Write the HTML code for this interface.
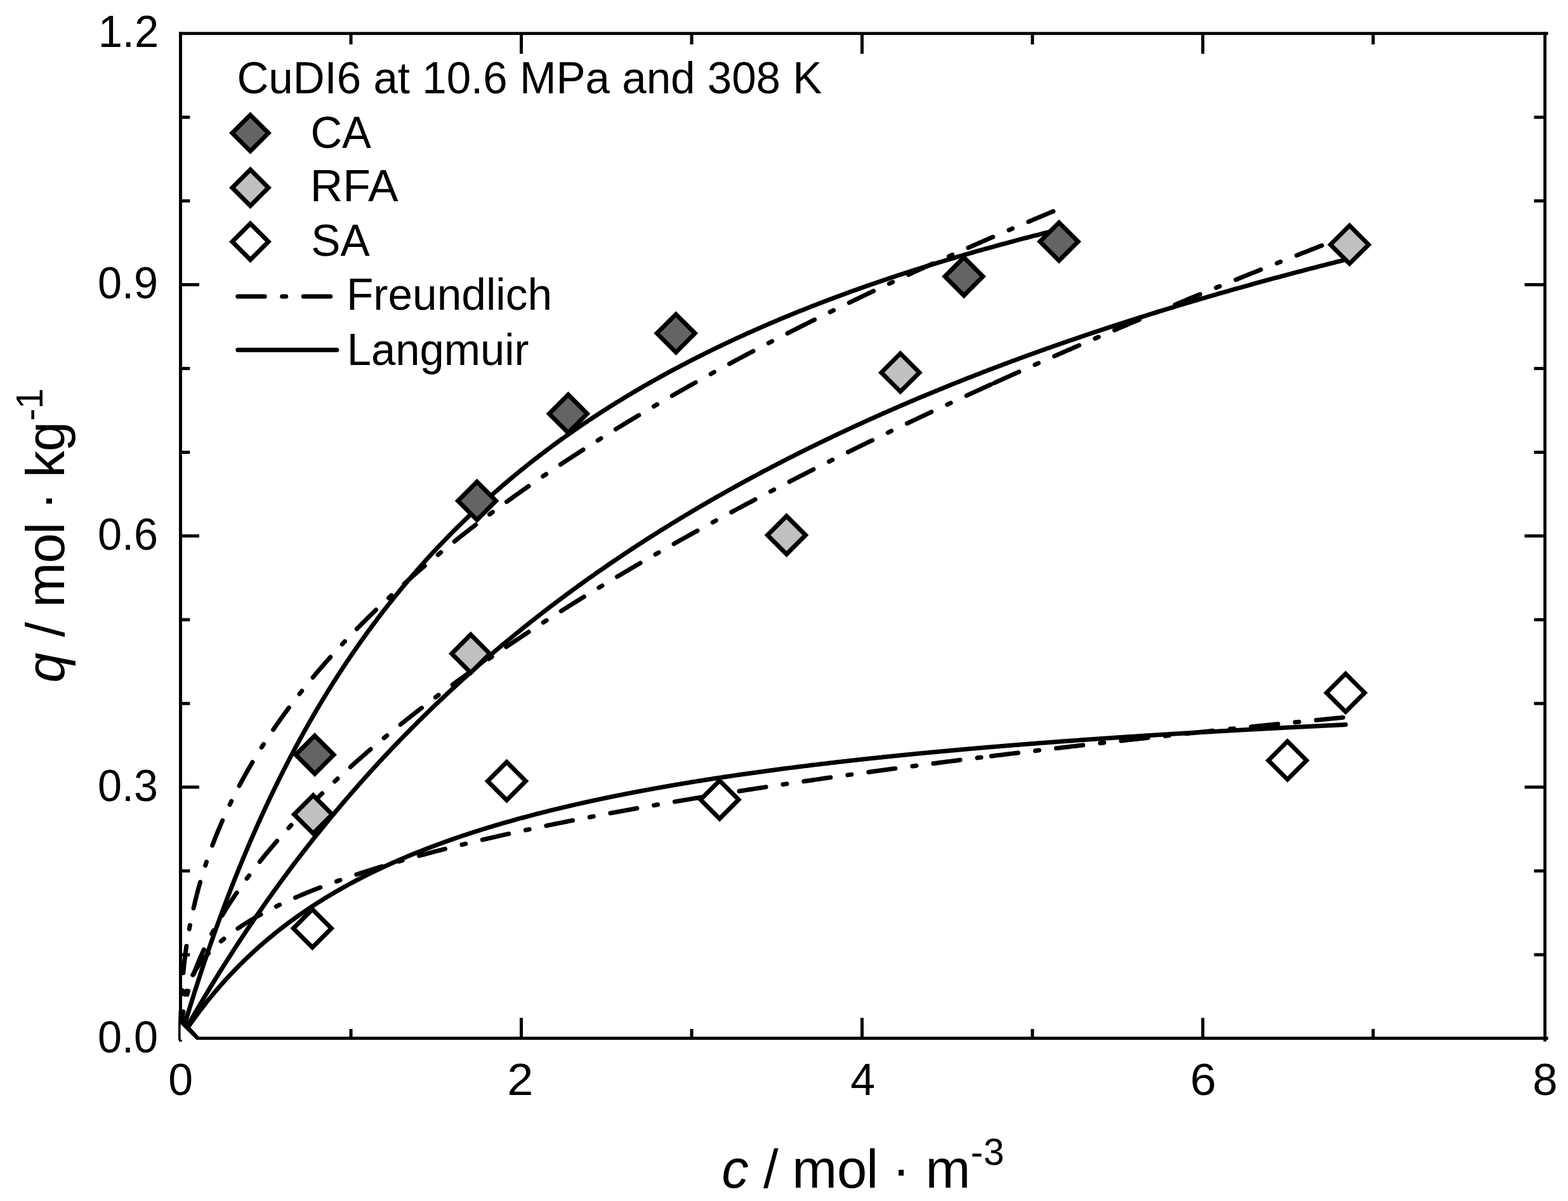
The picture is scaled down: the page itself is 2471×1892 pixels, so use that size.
<!DOCTYPE html><html><head><meta charset="utf-8"><title>CuDI6 adsorption isotherms</title><style>html,body{margin:0;padding:0;background:#fff}svg{display:block}text{font-family:"Liberation Sans", Arial, sans-serif;fill:#000}</style></head><body>
<svg xmlns="http://www.w3.org/2000/svg" width="2471" height="1892" viewBox="0 0 2471 1892">
<rect width="2471" height="1892" fill="#fff"/>
<g fill="none" stroke="#000" stroke-width="7" stroke-linejoin="round" stroke-linecap="round">
<path d="M284.50 1635.90 L284.92 1634.44 L285.35 1633.00 L285.80 1631.45 L286.25 1629.92 L286.70 1628.38 L287.18 1626.75 L287.66 1625.12 L288.10 1623.62 L288.61 1621.91 L289.19 1619.96 L289.67 1618.32 L290.21 1616.52 L290.80 1614.54 L291.45 1612.35 L291.93 1610.77 L292.43 1609.09 L292.97 1607.30 L293.55 1605.39 L294.16 1603.35 L294.82 1601.18 L295.52 1598.87 L296.27 1596.41 L297.07 1593.79 L297.93 1591.00 L298.38 1589.51 L298.84 1588.03 L299.30 1586.55 L299.75 1585.07 L300.21 1583.59 L300.67 1582.11 L301.13 1580.64 L301.58 1579.17 L302.04 1577.70 L302.50 1576.24 L302.95 1574.78 L303.41 1573.32 L303.87 1571.86 L304.33 1570.40 L304.78 1568.95 L305.24 1567.50 L305.70 1566.05 L306.15 1564.61 L306.61 1563.17 L307.07 1561.73 L307.53 1560.29 L307.98 1558.86 L308.44 1557.42 L308.90 1555.99 L309.81 1553.14 L310.73 1550.30 L311.64 1547.47 L312.55 1544.64 L313.47 1541.83 L314.38 1539.03 L315.30 1536.23 L316.21 1533.45 L317.13 1530.67 L318.04 1527.90 L318.95 1525.15 L319.87 1522.40 L320.78 1519.66 L321.70 1516.93 L322.61 1514.21 L323.53 1511.50 L324.44 1508.80 L325.35 1506.11 L326.27 1503.42 L327.18 1500.75 L328.10 1498.08 L329.01 1495.43 L329.93 1492.78 L330.84 1490.14 L331.75 1487.51 L332.67 1484.89 L333.58 1482.27 L334.50 1479.67 L335.41 1477.07 L336.33 1474.48 L337.24 1471.90 L338.15 1469.33 L339.07 1466.77 L339.98 1464.22 L340.90 1461.67 L341.81 1459.13 L342.73 1456.60 L343.64 1454.08 L344.55 1451.57 L345.47 1449.06 L346.38 1446.56 L347.30 1444.08 L348.21 1441.59 L349.13 1439.12 L350.04 1436.66 L350.95 1434.20 L351.87 1431.75 L352.78 1429.31 L353.70 1426.87 L354.61 1424.45 L355.53 1422.03 L356.44 1419.62 L357.35 1417.21 L358.27 1414.82 L359.18 1412.43 L360.10 1410.05 L361.01 1407.67 L361.93 1405.31 L362.84 1402.95 L363.75 1400.60 L364.67 1398.25 L365.58 1395.92 L366.50 1393.59 L367.41 1391.26 L368.33 1388.95 L369.24 1386.64 L370.15 1384.34 L371.07 1382.05 L371.98 1379.76 L372.90 1377.48 L373.81 1375.21 L374.73 1372.94 L375.64 1370.68 L376.55 1368.43 L377.47 1366.19 L378.38 1363.95 L379.30 1361.72 L380.21 1359.49 L381.13 1357.27 L382.04 1355.06 L382.95 1352.86 L383.87 1350.66 L384.78 1348.47 L385.70 1346.28 L386.61 1344.11 L387.53 1341.93 L388.44 1339.77 L389.35 1337.61 L390.27 1335.46 L391.18 1333.31 L392.10 1331.17 L393.01 1329.04 L393.93 1326.91 L394.84 1324.79 L395.75 1322.68 L396.67 1320.57 L397.58 1318.47 L398.50 1316.37 L399.41 1314.28 L400.33 1312.20 L401.24 1310.12 L402.15 1308.05 L403.07 1305.99 L403.98 1303.93 L404.90 1301.88 L405.81 1299.83 L406.73 1297.79 L407.64 1295.75 L408.55 1293.72 L409.47 1291.70 L410.38 1289.68 L411.30 1287.67 L412.21 1285.67 L413.13 1283.67 L414.04 1281.67 L414.95 1279.68 L415.87 1277.70 L416.78 1275.72 L417.70 1273.75 L418.61 1271.78 L419.53 1269.82 L420.44 1267.87 L421.35 1265.92 L422.27 1263.98 L423.18 1262.04 L424.10 1260.10 L425.01 1258.18 L425.93 1256.26 L426.84 1254.34 L427.75 1252.43 L428.67 1250.52 L429.58 1248.62 L430.50 1246.73 L431.41 1244.84 L432.33 1242.95 L433.24 1241.07 L434.15 1239.20 L435.07 1237.33 L435.98 1235.47 L436.90 1233.61 L437.81 1231.75 L438.73 1229.91 L439.64 1228.06 L440.55 1226.22 L441.47 1224.39 L442.38 1222.56 L443.30 1220.74 L444.21 1218.92 L445.13 1217.11 L446.04 1215.30 L446.95 1213.50 L447.87 1211.70 L448.78 1209.91 L449.70 1208.12 L450.61 1206.34 L451.53 1204.56 L452.44 1202.78 L453.35 1201.01 L454.27 1199.25 L455.18 1197.49 L456.10 1195.74 L457.01 1193.99 L457.93 1192.24 L458.84 1190.50 L459.75 1188.76 L460.67 1187.03 L461.58 1185.31 L462.50 1183.58 L463.41 1181.87 L464.33 1180.15 L465.24 1178.44 L466.15 1176.74 L467.07 1175.04 L467.98 1173.35 L468.90 1171.66 L469.81 1169.97 L470.73 1168.29 L471.64 1166.61 L472.55 1164.94 L473.47 1163.27 L474.38 1161.61 L475.30 1159.95 L476.21 1158.29 L477.13 1156.64 L478.04 1154.99 L478.95 1153.35 L479.87 1151.71 L480.78 1150.08 L481.70 1148.45 L482.61 1146.83 L483.53 1145.21 L484.44 1143.59 L485.35 1141.98 L486.27 1140.37 L487.18 1138.76 L488.10 1137.16 L489.01 1135.57 L489.93 1133.97 L490.84 1132.39 L491.75 1130.80 L492.67 1129.22 L493.58 1127.65 L494.50 1126.07 L495.41 1124.51 L496.33 1122.94 L497.24 1121.38 L498.15 1119.83 L499.07 1118.28 L499.98 1116.73 L500.90 1115.18 L501.81 1113.64 L502.73 1112.11 L503.64 1110.57 L504.55 1109.05 L505.47 1107.52 L506.38 1106.00 L507.30 1104.48 L508.21 1102.97 L509.13 1101.46 L510.04 1099.95 L510.95 1098.45 L511.87 1096.95 L512.78 1095.46 L513.70 1093.97 L514.61 1092.48 L515.53 1091.00 L516.44 1089.52 L517.35 1088.04 L518.27 1086.57 L519.18 1085.10 L520.10 1083.64 L521.01 1082.17 L521.93 1080.72 L522.84 1079.26 L523.75 1077.81 L524.67 1076.36 L525.58 1074.92 L526.50 1073.48 L527.41 1072.04 L528.33 1070.61 L529.24 1069.18 L530.15 1067.75 L531.07 1066.33 L531.98 1064.91 L532.90 1063.49 L533.81 1062.08 L534.73 1060.67 L535.64 1059.27 L536.55 1057.86 L537.47 1056.47 L538.38 1055.07 L539.30 1053.68 L540.21 1052.29 L541.13 1050.90 L542.04 1049.52 L542.95 1048.14 L543.87 1046.77 L544.78 1045.39 L545.70 1044.02 L546.61 1042.66 L547.53 1041.29 L548.44 1039.94 L549.35 1038.58 L550.27 1037.23 L551.18 1035.88 L552.10 1034.53 L553.01 1033.19 L553.93 1031.85 L554.84 1030.51 L555.75 1029.17 L556.67 1027.84 L557.58 1026.52 L558.50 1025.19 L559.41 1023.87 L560.33 1022.55 L561.24 1021.24 L562.15 1019.92 L563.07 1018.61 L563.98 1017.31 L564.90 1016.00 L565.81 1014.70 L566.73 1013.41 L567.64 1012.11 L568.55 1010.82 L569.47 1009.53 L570.38 1008.25 L571.30 1006.97 L572.21 1005.69 L573.13 1004.41 L574.04 1003.14 L574.95 1001.87 L575.87 1000.60 L576.78 999.33 L577.70 998.07 L578.61 996.81 L579.53 995.56 L580.44 994.30 L581.35 993.05 L582.27 991.81 L583.18 990.56 L584.10 989.32 L585.01 988.08 L585.93 986.84 L586.84 985.61 L587.75 984.38 L588.67 983.15 L589.58 981.93 L590.50 980.70 L591.41 979.48 L592.33 978.27 L593.24 977.05 L594.15 975.84 L595.07 974.63 L595.98 973.43 L596.90 972.22 L597.81 971.02 L598.73 969.82 L599.64 968.63 L600.55 967.44 L601.47 966.25 L602.84 964.47 L604.21 962.69 L605.58 960.92 L606.95 959.16 L608.33 957.40 L609.70 955.65 L611.07 953.91 L612.44 952.17 L613.81 950.43 L615.18 948.71 L616.55 946.98 L617.93 945.27 L619.30 943.56 L620.67 941.85 L622.04 940.15 L623.41 938.46 L624.78 936.77 L626.15 935.08 L627.53 933.41 L628.90 931.73 L630.27 930.06 L631.64 928.40 L633.01 926.75 L634.38 925.09 L635.75 923.45 L637.13 921.81 L638.50 920.17 L639.87 918.54 L641.24 916.92 L642.61 915.30 L643.98 913.68 L645.35 912.07 L646.73 910.47 L648.10 908.87 L649.47 907.27 L650.84 905.68 L652.21 904.10 L653.58 902.52 L654.95 900.94 L656.33 899.37 L657.70 897.81 L659.07 896.25 L660.44 894.69 L661.81 893.14 L663.18 891.59 L664.55 890.05 L665.93 888.52 L667.30 886.99 L668.67 885.46 L670.04 883.94 L671.41 882.42 L672.78 880.91 L674.15 879.40 L675.53 877.90 L676.90 876.40 L678.27 874.90 L679.64 873.41 L681.01 871.93 L682.38 870.45 L683.75 868.97 L685.13 867.50 L686.50 866.03 L687.87 864.57 L689.24 863.11 L690.61 861.65 L691.98 860.20 L693.35 858.76 L694.73 857.32 L696.10 855.88 L697.47 854.45 L698.84 853.02 L700.21 851.60 L701.58 850.18 L702.95 848.76 L704.33 847.35 L705.70 845.94 L707.07 844.54 L708.44 843.14 L709.81 841.74 L711.18 840.35 L712.55 838.97 L713.93 837.58 L715.30 836.21 L716.67 834.83 L718.04 833.46 L719.41 832.09 L720.78 830.73 L722.15 829.37 L723.53 828.02 L724.90 826.67 L726.27 825.32 L727.64 823.98 L729.01 822.64 L730.38 821.30 L731.75 819.97 L733.13 818.64 L734.50 817.32 L735.87 816.00 L737.24 814.68 L738.61 813.37 L739.98 812.06 L741.35 810.76 L742.73 809.45 L744.10 808.16 L745.47 806.86 L746.84 805.57 L748.21 804.29 L749.58 803.00 L750.95 801.72 L752.33 800.45 L753.70 799.18 L755.07 797.91 L756.44 796.64 L757.81 795.38 L759.18 794.12 L760.55 792.87 L761.93 791.62 L763.30 790.37 L764.67 789.12 L766.04 787.88 L767.41 786.65 L768.78 785.41 L770.15 784.18 L771.53 782.96 L772.90 781.73 L774.27 780.51 L775.64 779.29 L777.01 778.08 L778.38 776.87 L779.75 775.66 L781.13 774.46 L782.50 773.26 L783.87 772.06 L785.24 770.87 L786.61 769.68 L787.98 768.49 L789.35 767.31 L790.73 766.13 L792.10 764.95 L793.47 763.77 L794.84 762.60 L796.21 761.43 L797.58 760.27 L798.95 759.11 L800.33 757.95 L801.70 756.79 L803.07 755.64 L804.44 754.49 L805.81 753.34 L807.18 752.20 L808.55 751.06 L809.93 749.92 L811.30 748.79 L812.67 747.66 L814.04 746.53 L815.41 745.40 L816.78 744.28 L818.15 743.16 L819.53 742.04 L820.90 740.93 L822.27 739.82 L823.64 738.71 L825.01 737.61 L826.38 736.50 L827.75 735.41 L829.13 734.31 L830.50 733.22 L831.87 732.13 L833.24 731.04 L834.61 729.95 L835.98 728.87 L837.35 727.79 L838.73 726.72 L840.10 725.64 L841.47 724.57 L842.84 723.50 L844.21 722.44 L845.58 721.37 L846.96 720.31 L848.33 719.26 L849.70 718.20 L851.07 717.15 L852.44 716.10 L853.81 715.05 L855.18 714.01 L856.56 712.97 L857.93 711.93 L859.30 710.90 L860.67 709.86 L862.04 708.83 L863.41 707.80 L864.78 706.78 L866.16 705.75 L867.53 704.73 L868.90 703.72 L870.27 702.70 L871.64 701.69 L873.01 700.68 L874.38 699.67 L875.76 698.67 L877.13 697.66 L878.50 696.66 L879.87 695.67 L881.24 694.67 L882.61 693.68 L883.98 692.69 L885.36 691.70 L886.73 690.71 L888.10 689.73 L889.47 688.75 L890.84 687.77 L892.21 686.80 L893.58 685.82 L894.96 684.85 L896.33 683.89 L897.70 682.92 L899.07 681.96 L900.44 680.99 L901.81 680.03 L903.18 679.08 L904.56 678.12 L905.93 677.17 L907.30 676.22 L908.67 675.27 L910.04 674.33 L911.41 673.39 L912.78 672.45 L914.16 671.51 L915.53 670.57 L916.90 669.64 L918.27 668.71 L919.64 667.78 L921.01 666.85 L922.38 665.93 L923.76 665.00 L925.13 664.08 L926.50 663.16 L927.87 662.25 L929.24 661.33 L930.61 660.42 L931.98 659.51 L933.36 658.61 L934.73 657.70 L936.10 656.80 L937.47 655.90 L938.84 655.00 L940.21 654.10 L941.58 653.21 L942.96 652.31 L944.33 651.42 L945.70 650.53 L947.07 649.65 L948.44 648.76 L949.81 647.88 L951.18 647.00 L952.56 646.12 L953.93 645.25 L955.30 644.37 L956.67 643.50 L958.04 642.63 L959.41 641.77 L960.78 640.90 L962.16 640.04 L963.53 639.17 L964.90 638.31 L966.27 637.46 L967.64 636.60 L969.01 635.75 L970.38 634.89 L971.76 634.04 L973.13 633.20 L974.50 632.35 L975.87 631.51 L977.24 630.66 L978.61 629.82 L979.98 628.99 L981.36 628.15 L982.73 627.31 L984.10 626.48 L985.47 625.65 L986.84 624.82 L988.21 624.00 L989.58 623.17 L990.96 622.35 L992.33 621.53 L993.70 620.71 L995.07 619.89 L996.44 619.07 L997.81 618.26 L999.18 617.45 L1000.56 616.64 L1001.93 615.83 L1003.30 615.02 L1004.67 614.22 L1006.04 613.41 L1007.41 612.61 L1008.78 611.81 L1010.16 611.01 L1011.53 610.22 L1012.90 609.42 L1014.27 608.63 L1015.64 607.84 L1017.01 607.05 L1018.38 606.26 L1019.76 605.48 L1021.13 604.69 L1022.50 603.91 L1023.87 603.13 L1025.24 602.35 L1026.61 601.58 L1027.98 600.80 L1029.36 600.03 L1030.73 599.26 L1032.10 598.49 L1033.47 597.72 L1034.84 596.95 L1036.21 596.19 L1037.58 595.42 L1038.96 594.66 L1040.33 593.90 L1041.70 593.14 L1043.07 592.39 L1044.44 591.63 L1045.81 590.88 L1047.18 590.12 L1048.56 589.37 L1049.93 588.63 L1051.30 587.88 L1052.67 587.13 L1054.04 586.39 L1055.41 585.65 L1056.78 584.91 L1058.16 584.17 L1059.53 583.43 L1060.90 582.69 L1062.27 581.96 L1063.64 581.23 L1065.01 580.50 L1066.38 579.77 L1067.76 579.04 L1069.13 578.31 L1070.50 577.59 L1071.87 576.86 L1073.24 576.14 L1074.61 575.42 L1075.98 574.70 L1077.36 573.98 L1078.73 573.27 L1080.10 572.55 L1081.47 571.84 L1082.84 571.13 L1084.21 570.42 L1085.58 569.71 L1086.96 569.00 L1088.33 568.30 L1089.70 567.59 L1091.07 566.89 L1092.44 566.19 L1093.81 565.49 L1095.18 564.79 L1096.56 564.10 L1097.93 563.40 L1099.30 562.71 L1100.67 562.02 L1102.04 561.32 L1103.41 560.63 L1104.78 559.95 L1106.16 559.26 L1107.53 558.58 L1108.90 557.89 L1110.27 557.21 L1111.64 556.53 L1113.01 555.85 L1114.38 555.17 L1115.76 554.49 L1117.13 553.82 L1118.50 553.14 L1119.87 552.47 L1121.24 551.80 L1122.61 551.13 L1123.98 550.46 L1125.36 549.79 L1126.73 549.13 L1128.10 548.46 L1129.47 547.80 L1130.84 547.14 L1132.21 546.48 L1133.58 545.82 L1134.96 545.16 L1136.33 544.50 L1137.70 543.85 L1139.07 543.20 L1140.44 542.54 L1141.81 541.89 L1143.18 541.24 L1144.56 540.59 L1145.93 539.95 L1147.30 539.30 L1148.67 538.66 L1150.04 538.01 L1151.41 537.37 L1152.78 536.73 L1154.16 536.09 L1155.53 535.45 L1156.90 534.81 L1158.27 534.18 L1159.64 533.54 L1161.01 532.91 L1162.38 532.28 L1163.76 531.65 L1165.13 531.02 L1166.50 530.39 L1167.87 529.76 L1169.24 529.14 L1170.61 528.51 L1171.98 527.89 L1173.36 527.27 L1174.73 526.65 L1176.10 526.03 L1177.47 525.41 L1178.84 524.79 L1180.21 524.18 L1181.58 523.56 L1182.96 522.95 L1184.33 522.33 L1185.70 521.72 L1187.07 521.11 L1188.44 520.50 L1189.81 519.90 L1191.64 519.09 L1193.47 518.28 L1195.30 517.48 L1197.13 516.68 L1198.96 515.88 L1200.78 515.08 L1202.61 514.28 L1204.44 513.49 L1206.27 512.70 L1208.10 511.91 L1209.93 511.12 L1211.76 510.33 L1213.58 509.55 L1215.41 508.77 L1217.24 507.99 L1219.07 507.21 L1220.90 506.43 L1222.73 505.66 L1224.56 504.89 L1226.38 504.12 L1228.21 503.35 L1230.04 502.58 L1231.87 501.82 L1233.70 501.06 L1235.53 500.29 L1237.36 499.54 L1239.18 498.78 L1241.01 498.02 L1242.84 497.27 L1244.67 496.52 L1246.50 495.77 L1248.33 495.02 L1250.16 494.28 L1251.98 493.54 L1253.81 492.79 L1255.64 492.05 L1257.47 491.32 L1259.30 490.58 L1261.13 489.85 L1262.96 489.11 L1264.78 488.38 L1266.61 487.65 L1268.44 486.93 L1270.27 486.20 L1272.10 485.48 L1273.93 484.75 L1275.76 484.03 L1277.58 483.32 L1279.41 482.60 L1281.24 481.88 L1283.07 481.17 L1284.90 480.46 L1286.73 479.75 L1288.56 479.04 L1290.38 478.34 L1292.21 477.63 L1294.04 476.93 L1295.87 476.23 L1297.70 475.53 L1299.53 474.83 L1301.36 474.13 L1303.18 473.44 L1305.01 472.75 L1306.84 472.06 L1308.67 471.37 L1310.50 470.68 L1312.33 469.99 L1314.16 469.31 L1315.98 468.62 L1317.81 467.94 L1319.64 467.26 L1321.47 466.59 L1323.30 465.91 L1325.13 465.23 L1326.96 464.56 L1328.78 463.89 L1330.61 463.22 L1332.44 462.55 L1334.27 461.88 L1336.10 461.22 L1337.93 460.55 L1339.76 459.89 L1341.58 459.23 L1343.41 458.57 L1345.24 457.91 L1347.07 457.26 L1348.90 456.60 L1350.73 455.95 L1352.56 455.30 L1354.38 454.65 L1356.21 454.00 L1358.04 453.35 L1359.87 452.71 L1361.70 452.06 L1363.53 451.42 L1365.36 450.78 L1367.18 450.14 L1369.01 449.50 L1370.84 448.86 L1372.67 448.23 L1374.50 447.60 L1376.33 446.96 L1378.16 446.33 L1379.98 445.70 L1381.81 445.07 L1383.64 444.45 L1385.47 443.82 L1387.30 443.20 L1389.13 442.58 L1390.96 441.96 L1392.78 441.34 L1394.61 440.72 L1396.44 440.10 L1398.27 439.49 L1400.10 438.87 L1401.93 438.26 L1403.76 437.65 L1405.59 437.04 L1407.41 436.43 L1409.24 435.82 L1411.07 435.22 L1412.90 434.61 L1414.73 434.01 L1416.56 433.41 L1418.39 432.81 L1420.21 432.21 L1422.04 431.61 L1423.87 431.01 L1425.70 430.42 L1427.53 429.83 L1429.36 429.23 L1431.19 428.64 L1433.01 428.05 L1434.84 427.46 L1436.67 426.88 L1438.50 426.29 L1440.33 425.71 L1442.16 425.12 L1443.99 424.54 L1445.81 423.96 L1447.64 423.38 L1449.47 422.80 L1451.30 422.23 L1453.13 421.65 L1454.96 421.08 L1456.79 420.50 L1458.61 419.93 L1460.44 419.36 L1462.27 418.79 L1464.10 418.22 L1465.93 417.66 L1467.76 417.09 L1469.59 416.52 L1471.41 415.96 L1473.24 415.40 L1475.07 414.84 L1476.90 414.28 L1478.73 413.72 L1480.56 413.16 L1482.39 412.61 L1484.21 412.05 L1486.04 411.50 L1487.87 410.95 L1489.70 410.39 L1491.53 409.84 L1493.36 409.30 L1495.19 408.75 L1497.01 408.20 L1498.84 407.66 L1500.67 407.11 L1502.50 406.57 L1504.33 406.03 L1506.16 405.48 L1507.99 404.94 L1509.81 404.41 L1511.64 403.87 L1513.47 403.33 L1515.30 402.80 L1517.13 402.26 L1518.96 401.73 L1520.79 401.20 L1522.61 400.67 L1524.44 400.14 L1526.27 399.61 L1528.10 399.08 L1529.93 398.56 L1531.76 398.03 L1533.59 397.51 L1535.41 396.98 L1537.24 396.46 L1539.07 395.94 L1540.90 395.42 L1542.73 394.90 L1544.56 394.38 L1546.39 393.87 L1548.21 393.35 L1550.04 392.84 L1551.87 392.32 L1553.70 391.81 L1555.53 391.30 L1557.36 390.79 L1559.19 390.28 L1561.01 389.77 L1562.84 389.27 L1564.67 388.76 L1566.50 388.26 L1568.33 387.75 L1570.16 387.25 L1571.99 386.75 L1573.81 386.25 L1575.64 385.75 L1577.47 385.25 L1579.30 384.75 L1581.13 384.25 L1582.96 383.76 L1584.79 383.26 L1586.61 382.77 L1588.44 382.27 L1590.27 381.78 L1592.10 381.29 L1593.93 380.80 L1595.76 380.31 L1597.59 379.83 L1599.41 379.34 L1601.24 378.85 L1603.07 378.37 L1604.90 377.88 L1606.73 377.40 L1608.56 376.92 L1610.39 376.44 L1612.21 375.96 L1614.04 375.48 L1615.87 375.00 L1617.70 374.52 L1619.53 374.05 L1621.36 373.57 L1623.19 373.10 L1625.01 372.62 L1626.84 372.15 L1628.67 371.68 L1630.50 371.21 L1632.33 370.74 L1634.16 370.27 L1635.99 369.80 L1637.81 369.33 L1639.64 368.87 L1641.47 368.40 L1643.30 367.94 L1645.13 367.47 L1646.96 367.01 L1648.79 366.55 L1650.61 366.09 L1652.44 365.63 L1654.27 365.17 L1656.10 364.71 L1657.93 364.26 L1659.76 363.80 L1661.59 363.34 L1663.41 362.89 L1665.24 362.44 L1667.07 361.98 L1668.90 361.53"/>
<path d="M284.50 1635.90 L284.50 1634.39 L284.50 1632.88 L284.50 1631.37 L284.51 1629.86 L284.51 1628.28 L284.52 1626.71 L284.53 1625.12 L284.53 1623.45 L284.55 1621.92 L284.56 1620.21 L284.57 1618.54 L284.59 1616.97 L284.61 1615.25 L284.63 1613.70 L284.65 1612.04 L284.68 1610.25 L284.71 1608.73 L284.74 1607.11 L284.77 1605.39 L284.81 1603.58 L284.85 1601.65 L284.88 1600.14 L284.92 1598.55 L284.97 1596.90 L285.02 1595.17 L285.07 1593.36 L285.13 1591.48 L285.20 1589.51 L285.27 1587.45 L285.35 1585.31 L285.44 1583.07 L285.50 1581.52 L285.57 1579.92 L285.64 1578.28 L285.72 1576.59 L285.80 1574.85 L285.89 1573.06 L285.98 1571.22 L286.08 1569.32 L286.19 1567.37 L286.31 1565.36 L286.43 1563.29 L286.56 1561.16 L286.70 1558.97 L286.85 1556.71 L287.01 1554.39 L287.18 1552.00 L287.36 1549.53 L287.56 1547.00 L287.76 1544.39 L287.99 1541.71 L288.22 1538.95 L288.48 1536.10 L288.75 1533.18 L288.89 1531.68 L289.03 1530.16 L289.19 1528.63 L289.34 1527.06 L289.51 1525.48 L289.67 1523.87 L289.85 1522.24 L290.02 1520.59 L290.21 1518.91 L290.40 1517.20 L290.60 1515.48 L290.80 1513.72 L291.01 1511.94 L291.23 1510.14 L291.45 1508.31 L291.69 1506.45 L291.93 1504.57 L292.18 1502.65 L292.43 1500.71 L292.70 1498.75 L292.97 1496.75 L293.25 1494.72 L293.55 1492.67 L293.85 1490.58 L294.16 1488.47 L294.49 1486.32 L294.82 1484.14 L295.16 1481.93 L295.52 1479.69 L295.89 1477.42 L296.27 1475.11 L296.66 1472.77 L297.07 1470.39 L297.49 1467.98 L297.93 1465.54 L298.38 1463.01 L298.84 1460.54 L299.30 1458.10 L299.75 1455.71 L300.21 1453.35 L300.67 1451.04 L301.13 1448.76 L301.58 1446.51 L302.04 1444.30 L302.50 1442.12 L302.95 1439.98 L303.41 1437.86 L303.87 1435.77 L304.33 1433.70 L304.78 1431.67 L305.24 1429.66 L305.70 1427.67 L306.15 1425.71 L306.61 1423.77 L307.07 1421.86 L307.53 1419.96 L307.98 1418.09 L308.44 1416.23 L308.90 1414.40 L309.35 1412.59 L309.81 1410.79 L310.27 1409.01 L310.73 1407.25 L311.18 1405.51 L311.64 1403.78 L312.10 1402.07 L312.55 1400.38 L313.01 1398.70 L313.47 1397.03 L313.93 1395.38 L314.38 1393.75 L314.84 1392.13 L315.30 1390.52 L315.75 1388.93 L316.21 1387.35 L316.67 1385.78 L317.13 1384.22 L317.58 1382.68 L318.04 1381.15 L318.50 1379.62 L318.95 1378.12 L319.41 1376.62 L319.87 1375.13 L320.33 1373.66 L320.78 1372.19 L321.24 1370.74 L321.70 1369.29 L322.15 1367.86 L323.07 1365.01 L323.98 1362.21 L324.90 1359.44 L325.81 1356.71 L326.73 1354.01 L327.64 1351.35 L328.55 1348.71 L329.47 1346.11 L330.38 1343.53 L331.30 1340.98 L332.21 1338.47 L333.13 1335.97 L334.04 1333.51 L334.95 1331.07 L335.87 1328.65 L336.78 1326.26 L337.70 1323.89 L338.61 1321.55 L339.53 1319.23 L340.44 1316.92 L341.35 1314.64 L342.27 1312.38 L343.18 1310.14 L344.10 1307.92 L345.01 1305.72 L345.93 1303.54 L346.84 1301.37 L347.75 1299.22 L348.67 1297.09 L349.58 1294.98 L350.50 1292.88 L351.41 1290.80 L352.33 1288.74 L353.24 1286.69 L354.15 1284.66 L355.07 1282.64 L355.98 1280.63 L356.90 1278.64 L357.81 1276.67 L358.73 1274.71 L359.64 1272.76 L360.55 1270.82 L361.47 1268.90 L362.38 1266.99 L363.30 1265.09 L364.21 1263.21 L365.13 1261.33 L366.04 1259.47 L366.95 1257.62 L367.87 1255.79 L368.78 1253.96 L369.70 1252.15 L370.61 1250.34 L371.53 1248.55 L372.44 1246.76 L373.35 1244.99 L374.27 1243.23 L375.18 1241.48 L376.10 1239.73 L377.01 1238.00 L377.93 1236.28 L378.84 1234.56 L379.75 1232.86 L380.67 1231.16 L381.58 1229.48 L382.50 1227.80 L383.41 1226.13 L384.33 1224.47 L385.24 1222.82 L386.15 1221.17 L387.07 1219.54 L387.98 1217.91 L388.90 1216.29 L389.81 1214.68 L390.73 1213.08 L391.64 1211.48 L392.55 1209.89 L393.47 1208.31 L394.38 1206.74 L395.30 1205.17 L396.21 1203.62 L397.13 1202.06 L398.04 1200.52 L398.95 1198.98 L399.87 1197.45 L400.78 1195.93 L401.70 1194.41 L402.61 1192.90 L403.53 1191.40 L404.44 1189.90 L405.35 1188.41 L406.27 1186.92 L407.18 1185.45 L408.10 1183.97 L409.01 1182.51 L409.93 1181.05 L410.84 1179.59 L411.75 1178.15 L412.67 1176.70 L413.58 1175.27 L414.50 1173.84 L415.41 1172.41 L416.33 1170.99 L417.24 1169.58 L418.15 1168.17 L419.07 1166.76 L419.98 1165.36 L420.90 1163.97 L421.81 1162.58 L422.73 1161.20 L423.64 1159.82 L424.55 1158.45 L425.47 1157.08 L426.38 1155.72 L427.30 1154.37 L428.21 1153.01 L429.13 1151.66 L430.04 1150.32 L430.95 1148.98 L431.87 1147.65 L432.78 1146.32 L433.70 1145.00 L434.61 1143.68 L435.53 1142.36 L436.44 1141.05 L437.35 1139.74 L438.27 1138.44 L439.18 1137.14 L440.10 1135.85 L441.01 1134.56 L441.93 1133.28 L442.84 1132.00 L443.75 1130.72 L444.67 1129.45 L445.58 1128.18 L446.50 1126.91 L447.41 1125.65 L448.33 1124.40 L449.24 1123.14 L450.15 1121.90 L451.07 1120.65 L451.98 1119.41 L452.90 1118.17 L453.81 1116.94 L454.73 1115.71 L455.64 1114.48 L456.55 1113.26 L457.47 1112.04 L458.38 1110.83 L459.30 1109.62 L460.21 1108.41 L461.13 1107.20 L462.04 1106.00 L462.95 1104.80 L463.87 1103.61 L464.78 1102.42 L466.15 1100.64 L467.53 1098.87 L468.90 1097.10 L470.27 1095.35 L471.64 1093.59 L473.01 1091.85 L474.38 1090.12 L475.75 1088.39 L477.13 1086.67 L478.50 1084.95 L479.87 1083.24 L481.24 1081.54 L482.61 1079.85 L483.98 1078.16 L485.35 1076.47 L486.73 1074.80 L488.10 1073.13 L489.47 1071.47 L490.84 1069.81 L492.21 1068.16 L493.58 1066.52 L494.95 1064.88 L496.33 1063.24 L497.70 1061.62 L499.07 1060.00 L500.44 1058.38 L501.81 1056.77 L503.18 1055.17 L504.55 1053.57 L505.93 1051.98 L507.30 1050.39 L508.67 1048.81 L510.04 1047.24 L511.41 1045.67 L512.78 1044.10 L514.15 1042.54 L515.53 1040.99 L516.90 1039.44 L518.27 1037.89 L519.64 1036.35 L521.01 1034.82 L522.38 1033.29 L523.75 1031.77 L525.13 1030.25 L526.50 1028.73 L527.87 1027.22 L529.24 1025.72 L530.61 1024.22 L531.98 1022.72 L533.35 1021.23 L534.73 1019.74 L536.10 1018.26 L537.47 1016.78 L538.84 1015.31 L540.21 1013.84 L541.58 1012.38 L542.95 1010.92 L544.33 1009.46 L545.70 1008.01 L547.07 1006.57 L548.44 1005.12 L549.81 1003.69 L551.18 1002.25 L552.55 1000.82 L553.93 999.40 L555.30 997.97 L556.67 996.56 L558.04 995.14 L559.41 993.73 L560.78 992.33 L562.15 990.92 L563.53 989.53 L564.90 988.13 L566.27 986.74 L567.64 985.35 L569.01 983.97 L570.38 982.59 L571.75 981.22 L573.13 979.85 L574.50 978.48 L575.87 977.11 L577.24 975.75 L578.61 974.39 L579.98 973.04 L581.35 971.69 L582.73 970.34 L584.10 969.00 L585.47 967.66 L586.84 966.32 L588.21 964.99 L589.58 963.66 L590.95 962.33 L592.33 961.01 L593.70 959.69 L595.07 958.37 L596.44 957.06 L597.81 955.75 L599.18 954.44 L600.55 953.14 L601.93 951.84 L603.30 950.54 L604.67 949.25 L606.04 947.96 L607.41 946.67 L608.78 945.38 L610.15 944.10 L611.53 942.82 L612.90 941.55 L614.27 940.28 L615.64 939.01 L617.01 937.74 L618.38 936.47 L619.75 935.21 L621.13 933.96 L622.50 932.70 L623.87 931.45 L625.24 930.20 L626.61 928.95 L627.98 927.71 L629.35 926.47 L630.73 925.23 L632.10 923.99 L633.47 922.76 L634.84 921.53 L636.21 920.30 L637.58 919.07 L638.95 917.85 L640.33 916.63 L641.70 915.42 L643.07 914.20 L644.44 912.99 L645.81 911.78 L647.18 910.57 L648.55 909.37 L649.93 908.17 L651.30 906.97 L652.67 905.77 L654.04 904.58 L655.41 903.39 L656.78 902.20 L658.15 901.01 L659.53 899.83 L660.90 898.65 L662.27 897.47 L663.64 896.29 L665.01 895.11 L666.38 893.94 L667.75 892.77 L669.13 891.61 L670.50 890.44 L671.87 889.28 L673.24 888.12 L674.61 886.96 L675.98 885.80 L677.35 884.65 L678.73 883.50 L680.10 882.35 L681.47 881.20 L682.84 880.06 L684.21 878.91 L685.58 877.77 L686.95 876.64 L688.33 875.50 L689.70 874.37 L691.07 873.23 L692.44 872.10 L693.81 870.98 L695.18 869.85 L696.55 868.73 L697.93 867.61 L699.30 866.49 L700.67 865.37 L702.04 864.26 L703.41 863.14 L704.78 862.03 L706.15 860.92 L707.53 859.82 L708.90 858.71 L710.27 857.61 L711.64 856.51 L713.01 855.41 L714.38 854.31 L715.75 853.22 L717.13 852.13 L718.50 851.03 L719.87 849.95 L721.24 848.86 L722.61 847.77 L723.98 846.69 L725.35 845.61 L726.73 844.53 L728.10 843.45 L729.47 842.38 L730.84 841.30 L732.21 840.23 L733.58 839.16 L734.95 838.09 L736.33 837.02 L737.70 835.96 L739.07 834.90 L740.44 833.84 L741.81 832.78 L743.18 831.72 L744.55 830.66 L745.93 829.61 L747.30 828.56 L748.67 827.51 L750.04 826.46 L751.41 825.41 L752.78 824.36 L754.15 823.32 L755.53 822.28 L756.90 821.24 L758.27 820.20 L759.64 819.16 L761.01 818.13 L762.38 817.09 L763.75 816.06 L765.13 815.03 L766.50 814.00 L767.87 812.98 L769.24 811.95 L770.61 810.93 L771.98 809.91 L773.35 808.89 L774.73 807.87 L776.10 806.85 L777.47 805.83 L778.84 804.82 L780.21 803.81 L781.58 802.80 L782.95 801.79 L784.33 800.78 L785.70 799.77 L787.07 798.77 L788.44 797.76 L789.81 796.76 L791.18 795.76 L792.55 794.76 L793.93 793.77 L795.30 792.77 L796.67 791.78 L798.04 790.79 L799.41 789.79 L800.78 788.80 L802.15 787.82 L803.53 786.83 L804.90 785.84 L806.27 784.86 L807.64 783.88 L809.01 782.90 L810.38 781.92 L811.75 780.94 L813.13 779.96 L814.50 778.99 L815.87 778.01 L817.24 777.04 L818.61 776.07 L819.98 775.10 L821.35 774.13 L822.73 773.17 L824.10 772.20 L825.47 771.24 L826.84 770.27 L828.21 769.31 L829.58 768.35 L830.95 767.39 L832.33 766.44 L833.70 765.48 L835.07 764.53 L836.44 763.57 L837.81 762.62 L839.18 761.67 L840.55 760.72 L841.93 759.77 L843.30 758.83 L844.67 757.88 L846.04 756.94 L847.41 755.99 L848.78 755.05 L850.16 754.11 L851.53 753.17 L852.90 752.24 L854.27 751.30 L855.64 750.36 L857.01 749.43 L858.38 748.50 L859.76 747.57 L861.13 746.64 L862.50 745.71 L863.87 744.78 L865.24 743.85 L866.61 742.93 L867.98 742.00 L869.36 741.08 L870.73 740.16 L872.10 739.24 L873.47 738.32 L874.84 737.40 L876.21 736.49 L877.58 735.57 L878.96 734.66 L880.33 733.74 L881.70 732.83 L883.07 731.92 L884.44 731.01 L885.81 730.10 L887.18 729.19 L888.56 728.29 L889.93 727.38 L891.30 726.48 L892.67 725.58 L894.04 724.68 L895.41 723.78 L896.78 722.88 L898.16 721.98 L899.53 721.08 L900.90 720.18 L902.27 719.29 L903.64 718.40 L905.01 717.50 L906.38 716.61 L907.76 715.72 L909.13 714.83 L910.50 713.94 L911.87 713.06 L913.24 712.17 L914.61 711.29 L915.98 710.40 L917.36 709.52 L918.73 708.64 L920.10 707.76 L921.47 706.88 L922.84 706.00 L924.21 705.12 L925.58 704.24 L926.96 703.37 L928.33 702.49 L929.70 701.62 L931.07 700.75 L932.44 699.88 L933.81 699.01 L935.18 698.14 L936.56 697.27 L937.93 696.40 L939.30 695.54 L940.67 694.67 L942.04 693.81 L943.41 692.95 L944.78 692.08 L946.16 691.22 L947.53 690.36 L948.90 689.50 L950.27 688.65 L951.64 687.79 L953.01 686.93 L954.38 686.08 L955.76 685.22 L957.13 684.37 L958.50 683.52 L959.87 682.67 L961.24 681.82 L962.61 680.97 L963.98 680.12 L965.36 679.27 L966.73 678.43 L968.10 677.58 L969.47 676.74 L970.84 675.89 L972.21 675.05 L973.58 674.21 L974.96 673.37 L976.33 672.53 L977.70 671.69 L979.07 670.85 L980.44 670.01 L981.81 669.18 L983.18 668.34 L984.56 667.51 L985.93 666.67 L987.30 665.84 L988.67 665.01 L990.04 664.18 L991.41 663.35 L992.78 662.52 L994.16 661.69 L995.53 660.87 L996.90 660.04 L998.27 659.22 L999.64 658.39 L1001.01 657.57 L1002.38 656.75 L1003.76 655.92 L1005.13 655.10 L1006.50 654.28 L1007.87 653.46 L1009.24 652.65 L1010.61 651.83 L1011.98 651.01 L1013.36 650.20 L1014.73 649.38 L1016.10 648.57 L1017.47 647.76 L1018.84 646.94 L1020.21 646.13 L1021.58 645.32 L1022.96 644.51 L1024.33 643.70 L1025.70 642.90 L1027.07 642.09 L1028.44 641.28 L1029.81 640.48 L1031.18 639.67 L1032.56 638.87 L1033.93 638.07 L1035.30 637.26 L1036.67 636.46 L1038.04 635.66 L1039.41 634.86 L1040.78 634.06 L1042.16 633.27 L1043.53 632.47 L1044.90 631.67 L1046.27 630.88 L1047.64 630.08 L1049.01 629.29 L1050.38 628.49 L1051.76 627.70 L1053.13 626.91 L1054.50 626.12 L1055.87 625.33 L1057.24 624.54 L1058.61 623.75 L1059.98 622.96 L1061.36 622.18 L1062.73 621.39 L1064.10 620.61 L1065.47 619.82 L1066.84 619.04 L1068.21 618.25 L1069.58 617.47 L1070.96 616.69 L1072.33 615.91 L1073.70 615.13 L1075.07 614.35 L1076.44 613.57 L1077.81 612.79 L1079.18 612.02 L1080.56 611.24 L1081.93 610.47 L1083.30 609.69 L1084.67 608.92 L1086.04 608.14 L1087.41 607.37 L1088.78 606.60 L1090.16 605.83 L1091.53 605.06 L1092.90 604.29 L1094.27 603.52 L1095.64 602.75 L1097.01 601.99 L1098.38 601.22 L1099.76 600.45 L1101.13 599.69 L1102.50 598.92 L1103.87 598.16 L1105.24 597.40 L1106.61 596.63 L1107.98 595.87 L1109.36 595.11 L1110.73 594.35 L1112.10 593.59 L1113.47 592.83 L1114.84 592.08 L1116.21 591.32 L1117.58 590.56 L1118.96 589.81 L1120.33 589.05 L1121.70 588.30 L1123.07 587.54 L1124.44 586.79 L1125.81 586.04 L1127.18 585.28 L1128.56 584.53 L1129.93 583.78 L1131.30 583.03 L1132.67 582.28 L1134.04 581.54 L1135.41 580.79 L1136.78 580.04 L1138.16 579.30 L1139.53 578.55 L1140.90 577.80 L1142.27 577.06 L1143.64 576.32 L1145.01 575.57 L1146.38 574.83 L1147.76 574.09 L1149.13 573.35 L1150.50 572.61 L1151.87 571.87 L1153.24 571.13 L1154.61 570.39 L1155.98 569.65 L1157.36 568.92 L1158.73 568.18 L1160.10 567.44 L1161.47 566.71 L1162.84 565.97 L1164.21 565.24 L1165.58 564.51 L1166.96 563.77 L1168.33 563.04 L1169.70 562.31 L1171.07 561.58 L1172.44 560.85 L1173.81 560.12 L1175.18 559.39 L1176.56 558.66 L1177.93 557.94 L1179.30 557.21 L1180.67 556.48 L1182.04 555.76 L1183.41 555.03 L1184.78 554.31 L1186.16 553.58 L1187.53 552.86 L1188.90 552.14 L1190.27 551.42 L1191.64 550.70 L1193.01 549.97 L1194.38 549.25 L1195.76 548.54 L1197.13 547.82 L1198.50 547.10 L1199.87 546.38 L1201.24 545.66 L1202.61 544.95 L1203.98 544.23 L1205.36 543.52 L1206.73 542.80 L1208.10 542.09 L1209.47 541.37 L1210.84 540.66 L1212.21 539.95 L1213.58 539.24 L1214.96 538.53 L1216.33 537.81 L1217.70 537.10 L1219.07 536.40 L1220.44 535.69 L1221.81 534.98 L1223.18 534.27 L1224.56 533.56 L1225.93 532.86 L1227.30 532.15 L1228.67 531.45 L1230.04 530.74 L1231.41 530.04 L1232.78 529.33 L1234.16 528.63 L1235.53 527.93 L1236.90 527.23 L1238.27 526.52 L1239.64 525.82 L1241.01 525.12 L1242.38 524.42 L1243.76 523.73 L1245.13 523.03 L1245.67 522.75" stroke-dasharray="42.5 27.40 6 27.40"/>
<path d="M1245.67 522.75 L1247.41 521.86 L1248.78 521.17 L1250.16 520.47 L1251.53 519.77 L1252.90 519.08 L1254.27 518.38 L1255.64 517.69 L1257.01 517.00 L1258.38 516.30 L1259.76 515.61 L1261.13 514.92 L1262.50 514.23 L1263.87 513.54 L1265.24 512.85 L1266.61 512.16 L1267.98 511.47 L1269.36 510.78 L1270.73 510.09 L1272.10 509.40 L1273.47 508.71 L1274.84 508.03 L1276.21 507.34 L1277.58 506.66 L1278.96 505.97 L1280.33 505.29 L1281.70 504.60 L1283.07 503.92 L1284.44 503.24 L1285.81 502.55 L1287.18 501.87 L1288.56 501.19 L1289.93 500.51 L1291.30 499.83 L1292.67 499.15 L1294.04 498.47 L1295.41 497.79 L1296.78 497.11 L1298.16 496.43 L1299.53 495.76 L1300.90 495.08 L1302.27 494.40 L1303.64 493.73 L1305.01 493.05 L1306.38 492.38 L1307.76 491.70 L1309.13 491.03 L1310.50 490.36 L1311.87 489.68 L1313.24 489.01 L1314.61 488.34 L1315.98 487.67 L1317.36 487.00 L1318.73 486.33 L1320.10 485.66 L1321.47 484.99 L1322.84 484.32 L1324.21 483.65 L1325.58 482.98 L1326.96 482.32 L1328.33 481.65 L1329.70 480.98 L1331.07 480.32 L1332.44 479.65 L1333.81 478.99 L1335.18 478.32 L1336.56 477.66 L1337.93 477.00 L1339.30 476.33 L1340.67 475.67 L1342.04 475.01 L1343.41 474.35 L1344.78 473.69 L1346.16 473.03 L1347.53 472.37 L1348.90 471.71 L1350.27 471.05 L1351.64 470.39 L1353.01 469.73 L1354.38 469.08 L1355.76 468.42 L1357.13 467.76 L1358.50 467.11 L1359.87 466.45 L1361.24 465.79 L1362.61 465.14 L1363.98 464.49 L1365.36 463.83 L1366.73 463.18 L1368.10 462.53 L1369.47 461.87 L1370.84 461.22 L1372.21 460.57 L1373.58 459.92 L1374.96 459.27 L1376.33 458.62 L1377.70 457.97 L1379.07 457.32 L1380.44 456.67 L1381.81 456.02 L1383.18 455.37 L1384.56 454.73 L1385.93 454.08 L1387.30 453.43 L1388.67 452.79 L1390.04 452.14 L1391.41 451.50 L1392.78 450.85 L1394.16 450.21 L1395.53 449.56 L1396.90 448.92 L1398.27 448.28 L1399.64 447.64 L1401.01 446.99 L1402.39 446.35 L1403.76 445.71 L1405.13 445.07 L1406.50 444.43 L1407.87 443.79 L1409.24 443.15 L1410.61 442.51 L1411.99 441.87 L1413.36 441.23 L1414.73 440.60 L1416.10 439.96 L1417.47 439.32 L1418.84 438.69 L1420.21 438.05 L1421.59 437.42 L1422.96 436.78 L1424.33 436.15 L1425.70 435.51 L1427.07 434.88 L1428.44 434.24 L1429.81 433.61 L1431.19 432.98 L1432.56 432.35 L1433.93 431.72 L1435.30 431.08 L1436.67 430.45 L1438.04 429.82 L1439.41 429.19 L1440.79 428.56 L1442.16 427.93 L1443.53 427.31 L1444.90 426.68 L1446.27 426.05 L1447.64 425.42 L1449.01 424.80 L1450.39 424.17 L1451.76 423.54 L1453.13 422.92 L1454.50 422.29 L1455.87 421.67 L1457.24 421.04 L1458.61 420.42 L1459.99 419.79 L1461.36 419.17 L1462.73 418.55 L1464.10 417.92 L1465.47 417.30 L1466.84 416.68 L1468.21 416.06 L1469.59 415.44 L1470.96 414.82 L1472.33 414.20 L1473.70 413.58 L1475.07 412.96 L1476.44 412.34 L1477.81 411.72 L1479.19 411.10 L1480.56 410.49 L1481.93 409.87 L1483.30 409.25 L1484.67 408.64 L1486.04 408.02 L1487.41 407.40 L1488.79 406.79 L1490.16 406.17 L1491.53 405.56 L1492.90 404.94 L1494.27 404.33 L1495.64 403.72 L1497.01 403.10 L1498.39 402.49 L1499.76 401.88 L1501.13 401.27 L1502.50 400.66 L1503.87 400.05 L1505.24 399.43 L1506.61 398.82 L1507.99 398.21 L1509.36 397.60 L1510.73 397.00 L1512.10 396.39 L1513.47 395.78 L1514.84 395.17 L1516.21 394.56 L1518.04 393.75 L1519.87 392.94 L1521.70 392.14 L1523.53 391.33 L1525.36 390.52 L1527.19 389.72 L1529.01 388.91 L1530.84 388.10 L1532.67 387.30 L1534.50 386.50 L1536.33 385.69 L1538.16 384.89 L1539.99 384.09 L1541.81 383.29 L1543.64 382.49 L1545.47 381.69 L1547.30 380.89 L1549.13 380.09 L1550.96 379.29 L1552.79 378.50 L1554.61 377.70 L1556.44 376.91 L1558.27 376.11 L1560.10 375.32 L1561.93 374.52 L1563.76 373.73 L1565.59 372.94 L1567.41 372.14 L1569.24 371.35 L1571.07 370.56 L1572.90 369.77 L1574.73 368.98 L1576.56 368.19 L1578.39 367.41 L1580.21 366.62 L1582.04 365.83 L1583.87 365.04 L1585.70 364.26 L1587.53 363.47 L1589.36 362.69 L1591.19 361.91 L1593.01 361.12 L1594.84 360.34 L1596.67 359.56 L1598.50 358.78 L1600.33 358.00 L1602.16 357.22 L1603.99 356.44 L1605.81 355.66 L1607.64 354.88 L1609.47 354.10 L1611.30 353.32 L1613.13 352.55 L1614.96 351.77 L1616.79 351.00 L1618.61 350.22 L1620.44 349.45 L1622.27 348.67 L1624.10 347.90 L1625.93 347.13 L1627.76 346.36 L1629.59 345.59 L1631.41 344.81 L1633.24 344.04 L1635.07 343.28 L1636.90 342.51 L1638.73 341.74 L1640.56 340.97 L1642.39 340.20 L1644.21 339.44 L1646.04 338.67 L1647.87 337.91 L1649.70 337.14 L1651.53 336.38 L1653.36 335.61 L1655.19 334.85 L1657.01 334.09 L1658.84 333.33 L1660.67 332.56 L1662.50 331.80 L1664.33 331.04 L1666.16 330.28 L1667.99 329.52 L1668.90 329.14" stroke-dasharray="42.5 27.40 6 27.40"/>
<path d="M284.50 1635.90 L285.24 1634.57 L285.98 1633.25 L286.77 1631.85 L287.56 1630.45 L288.35 1629.05 L289.19 1627.56 L290.02 1626.07 L290.80 1624.70 L291.69 1623.14 L292.43 1621.82 L293.25 1620.38 L294.16 1618.78 L295.16 1617.02 L296.27 1615.08 L297.07 1613.69 L297.93 1612.19 L299.14 1610.07 L300.36 1607.95 L301.58 1605.83 L302.80 1603.72 L304.02 1601.61 L305.24 1599.51 L306.46 1597.41 L307.68 1595.32 L308.90 1593.23 L310.12 1591.15 L311.34 1589.07 L312.56 1586.99 L313.78 1584.92 L315.00 1582.86 L316.22 1580.80 L317.44 1578.74 L318.66 1576.69 L319.88 1574.64 L321.10 1572.60 L322.32 1570.56 L323.54 1568.52 L324.76 1566.49 L325.98 1564.47 L327.20 1562.44 L328.41 1560.43 L329.63 1558.41 L330.85 1556.40 L332.07 1554.40 L333.29 1552.40 L334.51 1550.40 L335.73 1548.41 L336.95 1546.42 L338.17 1544.44 L339.39 1542.46 L340.61 1540.49 L341.83 1538.52 L343.05 1536.55 L344.27 1534.59 L345.49 1532.63 L346.71 1530.67 L347.93 1528.72 L349.15 1526.78 L350.37 1524.84 L351.59 1522.90 L352.81 1520.96 L354.03 1519.03 L355.25 1517.11 L356.47 1515.19 L357.68 1513.27 L358.90 1511.36 L360.12 1509.45 L361.34 1507.54 L362.56 1505.64 L363.78 1503.74 L365.00 1501.85 L366.22 1499.96 L367.44 1498.07 L368.66 1496.19 L369.88 1494.31 L371.10 1492.44 L372.32 1490.57 L373.54 1488.70 L374.76 1486.84 L375.98 1484.98 L377.20 1483.12 L378.42 1481.27 L379.64 1479.42 L380.86 1477.58 L382.08 1475.74 L383.30 1473.90 L384.52 1472.07 L385.74 1470.24 L386.96 1468.42 L388.17 1466.60 L389.39 1464.78 L390.61 1462.96 L391.83 1461.15 L393.05 1459.35 L394.27 1457.54 L395.49 1455.74 L396.71 1453.95 L397.93 1452.16 L399.15 1450.37 L400.37 1448.58 L401.59 1446.80 L402.81 1445.02 L404.03 1443.25 L405.25 1441.48 L406.47 1439.71 L407.69 1437.95 L408.91 1436.19 L410.13 1434.43 L411.35 1432.68 L412.57 1430.93 L413.79 1429.18 L415.01 1427.44 L416.23 1425.70 L417.44 1423.97 L418.66 1422.23 L419.88 1420.51 L421.10 1418.78 L422.32 1417.06 L423.54 1415.34 L424.76 1413.63 L425.98 1411.91 L427.20 1410.21 L428.42 1408.50 L429.64 1406.80 L430.86 1405.10 L432.08 1403.41 L433.30 1401.71 L434.52 1400.03 L435.74 1398.34 L436.96 1396.66 L438.18 1394.98 L439.40 1393.30 L440.62 1391.63 L441.84 1389.96 L443.06 1388.30 L444.28 1386.64 L445.50 1384.98 L446.71 1383.32 L447.93 1381.67 L449.15 1380.02 L450.37 1378.37 L451.59 1376.73 L452.81 1375.09 L454.03 1373.45 L455.25 1371.82 L456.47 1370.19 L457.69 1368.56 L458.91 1366.94 L460.13 1365.32 L461.35 1363.70 L462.57 1362.09 L463.79 1360.47 L465.01 1358.87 L466.23 1357.26 L467.45 1355.66 L468.67 1354.06 L469.89 1352.46 L471.11 1350.87 L472.33 1349.28 L473.55 1347.69 L474.77 1346.11 L475.99 1344.53 L477.20 1342.95 L478.42 1341.37 L479.64 1339.80 L480.86 1338.23 L482.08 1336.66 L483.30 1335.10 L484.52 1333.54 L485.74 1331.98 L486.96 1330.43 L488.18 1328.88 L489.40 1327.33 L490.62 1325.78 L491.84 1324.24 L493.06 1322.70 L494.28 1321.16 L495.50 1319.63 L496.72 1318.09 L497.94 1316.57 L499.16 1315.04 L500.38 1313.52 L501.60 1312.00 L502.82 1310.48 L504.04 1308.96 L505.26 1307.45 L506.47 1305.94 L507.69 1304.44 L508.91 1302.93 L510.13 1301.43 L511.35 1299.94 L512.57 1298.44 L513.79 1296.95 L515.01 1295.46 L516.23 1293.97 L517.45 1292.49 L518.67 1291.01 L519.89 1289.53 L521.11 1288.05 L522.33 1286.58 L523.55 1285.11 L524.77 1283.64 L525.99 1282.18 L527.21 1280.71 L528.43 1279.25 L529.65 1277.80 L530.87 1276.34 L532.09 1274.89 L533.31 1273.44 L534.53 1271.99 L535.75 1270.55 L536.96 1269.11 L538.18 1267.67 L539.40 1266.23 L540.62 1264.80 L541.84 1263.37 L543.06 1261.94 L544.28 1260.51 L545.50 1259.09 L546.72 1257.67 L547.94 1256.25 L549.16 1254.84 L550.38 1253.42 L551.60 1252.01 L552.82 1250.60 L554.04 1249.20 L555.26 1247.79 L556.48 1246.39 L557.70 1245.00 L558.92 1243.60 L560.14 1242.21 L561.36 1240.82 L562.58 1239.43 L563.80 1238.04 L565.02 1236.66 L566.23 1235.28 L567.45 1233.90 L568.67 1232.52 L569.89 1231.15 L571.11 1229.78 L572.33 1228.41 L573.55 1227.04 L574.77 1225.68 L575.99 1224.32 L577.21 1222.96 L578.43 1221.60 L579.65 1220.25 L580.87 1218.90 L582.09 1217.55 L583.31 1216.20 L584.53 1214.86 L585.75 1213.51 L586.97 1212.17 L588.19 1210.84 L589.41 1209.50 L590.63 1208.17 L591.85 1206.84 L593.07 1205.51 L594.29 1204.18 L595.50 1202.86 L596.72 1201.54 L597.94 1200.22 L599.16 1198.90 L600.38 1197.58 L601.60 1196.27 L602.82 1194.96 L604.04 1193.65 L605.26 1192.35 L606.48 1191.04 L607.70 1189.74 L608.92 1188.44 L610.14 1187.15 L611.36 1185.85 L612.58 1184.56 L613.80 1183.27 L615.02 1181.98 L616.24 1180.70 L617.46 1179.41 L618.68 1178.13 L619.90 1176.85 L621.12 1175.58 L622.34 1174.30 L623.56 1173.03 L624.78 1171.76 L625.99 1170.49 L627.21 1169.22 L628.43 1167.96 L629.65 1166.70 L630.87 1165.44 L632.09 1164.18 L633.31 1162.92 L634.53 1161.67 L635.75 1160.42 L636.97 1159.17 L638.19 1157.92 L639.41 1156.68 L640.63 1155.44 L641.85 1154.19 L643.07 1152.96 L644.29 1151.72 L645.51 1150.48 L646.73 1149.25 L647.95 1148.02 L649.17 1146.79 L650.39 1145.57 L651.61 1144.34 L652.83 1143.12 L654.05 1141.90 L655.26 1140.68 L656.48 1139.47 L657.70 1138.25 L658.92 1137.04 L660.14 1135.83 L661.36 1134.62 L662.58 1133.41 L663.80 1132.21 L665.02 1131.01 L666.24 1129.81 L667.46 1128.61 L668.68 1127.41 L669.90 1126.22 L671.12 1125.03 L672.34 1123.84 L673.56 1122.65 L674.78 1121.46 L676.00 1120.28 L677.22 1119.10 L678.44 1117.91 L679.66 1116.74 L680.88 1115.56 L682.10 1114.38 L683.32 1113.21 L684.53 1112.04 L685.75 1110.87 L686.97 1109.70 L688.19 1108.54 L689.41 1107.38 L690.63 1106.21 L691.85 1105.05 L693.07 1103.90 L694.29 1102.74 L695.51 1101.59 L696.73 1100.43 L697.95 1099.28 L699.17 1098.14 L700.39 1096.99 L701.61 1095.84 L702.83 1094.70 L704.05 1093.56 L705.27 1092.42 L706.49 1091.28 L707.71 1090.15 L708.93 1089.02 L710.15 1087.88 L711.37 1086.75 L712.59 1085.62 L713.81 1084.50 L715.02 1083.37 L716.24 1082.25 L717.46 1081.13 L718.68 1080.01 L719.90 1078.89 L721.12 1077.78 L722.34 1076.66 L723.56 1075.55 L724.78 1074.44 L726.00 1073.33 L727.22 1072.23 L728.44 1071.12 L729.66 1070.02 L730.88 1068.92 L732.10 1067.82 L733.32 1066.72 L734.54 1065.62 L735.76 1064.53 L736.98 1063.43 L738.20 1062.34 L739.42 1061.25 L740.64 1060.16 L741.86 1059.08 L743.08 1057.99 L744.29 1056.91 L745.51 1055.83 L746.73 1054.75 L747.95 1053.67 L749.17 1052.60 L750.39 1051.52 L751.61 1050.45 L752.83 1049.38 L754.05 1048.31 L755.27 1047.24 L756.49 1046.18 L757.71 1045.11 L758.93 1044.05 L760.15 1042.99 L761.37 1041.93 L762.59 1040.87 L763.81 1039.82 L765.03 1038.76 L766.25 1037.71 L767.47 1036.66 L768.69 1035.61 L769.91 1034.56 L771.13 1033.51 L772.35 1032.47 L773.57 1031.43 L774.78 1030.38 L776.00 1029.34 L777.22 1028.31 L778.44 1027.27 L779.66 1026.23 L780.88 1025.20 L782.10 1024.17 L783.32 1023.14 L784.54 1022.11 L785.76 1021.08 L786.98 1020.06 L788.20 1019.03 L789.42 1018.01 L790.64 1016.99 L791.86 1015.97 L793.08 1014.95 L794.30 1013.94 L795.52 1012.92 L796.74 1011.91 L797.96 1010.90 L799.18 1009.89 L800.40 1008.88 L801.62 1007.87 L802.84 1006.86 L804.05 1005.86 L805.27 1004.86 L806.49 1003.86 L807.71 1002.86 L808.93 1001.86 L810.15 1000.86 L811.37 999.87 L812.59 998.87 L813.81 997.88 L815.03 996.89 L816.25 995.90 L817.47 994.91 L818.69 993.93 L819.91 992.94 L821.13 991.96 L822.35 990.98 L823.57 990.00 L824.79 989.02 L826.01 988.04 L827.23 987.07 L828.45 986.09 L829.67 985.12 L830.89 984.15 L832.11 983.18 L833.32 982.21 L834.54 981.24 L835.76 980.28 L836.98 979.31 L838.20 978.35 L839.42 977.39 L840.64 976.43 L841.86 975.47 L843.08 974.51 L844.30 973.56 L845.52 972.60 L846.74 971.65 L847.96 970.70 L849.18 969.75 L850.40 968.80 L851.62 967.85 L852.84 966.90 L854.06 965.96 L855.28 965.02 L856.50 964.07 L857.72 963.13 L858.94 962.19 L860.16 961.26 L861.38 960.32 L862.60 959.39 L863.81 958.45 L865.03 957.52 L866.25 956.59 L867.47 955.66 L868.69 954.73 L869.91 953.80 L871.13 952.88 L872.35 951.95 L873.57 951.03 L874.79 950.11 L876.01 949.19 L877.23 948.27 L878.45 947.35 L879.67 946.44 L880.89 945.52 L882.11 944.61 L883.33 943.70 L884.55 942.78 L885.77 941.87 L886.99 940.97 L888.21 940.06 L889.43 939.15 L890.65 938.25 L891.87 937.35 L893.08 936.44 L894.30 935.54 L895.52 934.64 L896.74 933.75 L897.96 932.85 L899.18 931.95 L900.40 931.06 L901.62 930.17 L902.84 929.27 L904.06 928.38 L905.28 927.50 L906.50 926.61 L907.72 925.72 L908.94 924.84 L910.16 923.95 L911.38 923.07 L912.60 922.19 L913.82 921.31 L915.04 920.43 L916.26 919.55 L917.48 918.67 L918.70 917.80 L919.92 916.92 L921.75 915.61 L923.57 914.31 L925.40 913.01 L927.23 911.70 L929.06 910.41 L930.89 909.11 L932.72 907.82 L934.55 906.53 L936.38 905.24 L938.21 903.96 L940.04 902.68 L941.87 901.40 L943.70 900.12 L945.53 898.85 L947.36 897.58 L949.19 896.31 L951.02 895.04 L952.84 893.78 L954.67 892.52 L956.50 891.26 L958.33 890.00 L960.16 888.75 L961.99 887.50 L963.82 886.25 L965.65 885.01 L967.48 883.77 L969.31 882.53 L971.14 881.29 L972.97 880.05 L974.80 878.82 L976.63 877.59 L978.46 876.37 L980.29 875.14 L982.11 873.92 L983.94 872.70 L985.77 871.48 L987.60 870.27 L989.43 869.05 L991.26 867.84 L993.09 866.64 L994.92 865.43 L996.75 864.23 L998.58 863.03 L1000.41 861.83 L1002.24 860.64 L1004.07 859.44 L1005.90 858.25 L1007.73 857.07 L1009.56 855.88 L1011.39 854.70 L1013.21 853.52 L1015.04 852.34 L1016.87 851.16 L1018.70 849.99 L1020.53 848.82 L1022.36 847.65 L1024.19 846.48 L1026.02 845.31 L1027.85 844.15 L1029.68 842.99 L1031.51 841.84 L1033.34 840.68 L1035.17 839.53 L1037.00 838.38 L1038.83 837.23 L1040.66 836.08 L1042.48 834.94 L1044.31 833.80 L1046.14 832.66 L1047.97 831.52 L1049.80 830.38 L1051.63 829.25 L1053.46 828.12 L1055.29 826.99 L1057.12 825.87 L1058.95 824.74 L1060.78 823.62 L1062.61 822.50 L1064.44 821.39 L1066.27 820.27 L1068.10 819.16 L1069.93 818.05 L1071.75 816.94 L1073.58 815.83 L1075.41 814.73 L1077.24 813.62 L1079.07 812.52 L1080.90 811.43 L1082.73 810.33 L1084.56 809.24 L1086.39 808.15 L1088.22 807.06 L1090.05 805.97 L1091.88 804.88 L1093.71 803.80 L1095.54 802.72 L1097.37 801.64 L1099.20 800.56 L1101.02 799.49 L1102.85 798.42 L1104.68 797.34 L1106.51 796.28 L1108.34 795.21 L1110.17 794.14 L1112.00 793.08 L1113.83 792.02 L1115.66 790.96 L1117.49 789.91 L1119.32 788.85 L1121.15 787.80 L1122.98 786.75 L1124.81 785.70 L1126.64 784.65 L1128.47 783.61 L1130.30 782.57 L1132.12 781.52 L1133.95 780.49 L1135.78 779.45 L1137.61 778.41 L1139.44 777.38 L1141.27 776.35 L1143.10 775.32 L1144.93 774.29 L1146.76 773.27 L1148.59 772.25 L1150.42 771.22 L1152.25 770.20 L1154.08 769.19 L1155.91 768.17 L1157.74 767.16 L1159.57 766.15 L1161.39 765.13 L1163.22 764.13 L1165.05 763.12 L1166.88 762.12 L1168.71 761.11 L1170.54 760.11 L1172.37 759.11 L1174.20 758.12 L1176.03 757.12 L1177.86 756.13 L1179.69 755.14 L1181.52 754.15 L1183.35 753.16 L1185.18 752.17 L1187.01 751.19 L1188.84 750.21 L1190.66 749.22 L1192.49 748.25 L1194.32 747.27 L1196.15 746.29 L1197.98 745.32 L1199.81 744.35 L1201.64 743.38 L1203.47 742.41 L1205.30 741.44 L1207.13 740.48 L1208.96 739.51 L1210.79 738.55 L1212.62 737.59 L1214.45 736.64 L1216.28 735.68 L1218.11 734.73 L1219.93 733.77 L1221.76 732.82 L1223.59 731.87 L1225.42 730.92 L1227.25 729.98 L1229.08 729.03 L1230.91 728.09 L1232.74 727.15 L1234.57 726.21 L1236.40 725.27 L1238.23 724.34 L1240.06 723.40 L1241.89 722.47 L1243.72 721.54 L1245.55 720.61 L1247.38 719.68 L1249.21 718.76 L1251.03 717.84 L1252.86 716.91 L1254.69 715.99 L1256.52 715.07 L1258.35 714.15 L1260.18 713.24 L1262.01 712.32 L1263.84 711.41 L1265.67 710.50 L1267.50 709.59 L1269.33 708.68 L1271.16 707.78 L1272.99 706.87 L1274.82 705.97 L1276.65 705.07 L1278.48 704.17 L1280.30 703.27 L1282.13 702.37 L1283.96 701.48 L1285.79 700.58 L1287.62 699.69 L1289.45 698.80 L1291.28 697.91 L1293.11 697.02 L1294.94 696.14 L1296.77 695.25 L1298.60 694.37 L1300.43 693.49 L1302.26 692.61 L1304.09 691.73 L1305.92 690.85 L1307.75 689.98 L1309.57 689.10 L1311.40 688.23 L1313.23 687.36 L1315.06 686.49 L1316.89 685.62 L1318.72 684.76 L1320.55 683.89 L1322.38 683.03 L1324.21 682.17 L1326.04 681.31 L1327.87 680.45 L1329.70 679.59 L1331.53 678.73 L1333.36 677.88 L1335.19 677.03 L1337.02 676.17 L1338.84 675.32 L1340.67 674.48 L1342.50 673.63 L1344.33 672.78 L1346.16 671.94 L1347.99 671.09 L1349.82 670.25 L1351.65 669.41 L1353.48 668.57 L1355.31 667.74 L1357.14 666.90 L1358.97 666.07 L1360.80 665.23 L1362.63 664.40 L1364.46 663.57 L1366.29 662.74 L1368.12 661.91 L1369.94 661.09 L1371.77 660.26 L1373.60 659.44 L1375.43 658.62 L1377.26 657.80 L1379.09 656.98 L1380.92 656.16 L1382.75 655.34 L1384.58 654.53 L1386.41 653.72 L1388.24 652.90 L1390.07 652.09 L1391.90 651.28 L1393.73 650.47 L1395.56 649.67 L1397.39 648.86 L1399.21 648.06 L1401.04 647.25 L1402.87 646.45 L1404.70 645.65 L1406.53 644.85 L1408.36 644.05 L1410.19 643.26 L1412.02 642.46 L1413.85 641.67 L1415.68 640.88 L1417.51 640.09 L1419.34 639.30 L1421.17 638.51 L1423.00 637.72 L1424.83 636.93 L1426.66 636.15 L1428.48 635.37 L1430.31 634.58 L1432.14 633.80 L1433.97 633.02 L1435.80 632.24 L1437.63 631.47 L1439.46 630.69 L1441.29 629.92 L1443.12 629.14 L1444.95 628.37 L1446.78 627.60 L1448.61 626.83 L1450.44 626.06 L1452.27 625.30 L1454.10 624.53 L1455.93 623.76 L1457.75 623.00 L1459.58 622.24 L1461.41 621.48 L1463.24 620.72 L1465.07 619.96 L1466.90 619.20 L1468.73 618.45 L1470.56 617.69 L1472.39 616.94 L1474.22 616.19 L1476.05 615.43 L1477.88 614.68 L1479.71 613.94 L1481.54 613.19 L1483.37 612.44 L1485.20 611.70 L1487.03 610.95 L1488.85 610.21 L1490.68 609.47 L1492.51 608.73 L1494.34 607.99 L1496.17 607.25 L1498.00 606.51 L1499.83 605.78 L1501.66 605.04 L1503.49 604.31 L1505.32 603.58 L1507.15 602.84 L1508.98 602.11 L1510.81 601.39 L1512.64 600.66 L1514.47 599.93 L1516.30 599.21 L1518.12 598.48 L1519.95 597.76 L1521.78 597.04 L1523.61 596.32 L1525.44 595.60 L1527.27 594.88 L1529.10 594.16 L1530.93 593.44 L1532.76 592.73 L1534.59 592.01 L1536.42 591.30 L1538.25 590.59 L1540.08 589.88 L1541.91 589.17 L1543.74 588.46 L1545.57 587.75 L1547.39 587.05 L1549.22 586.34 L1551.05 585.64 L1552.88 584.93 L1554.71 584.23 L1556.54 583.53 L1558.37 582.83 L1560.20 582.13 L1562.03 581.43 L1563.86 580.74 L1565.69 580.04 L1567.52 579.35 L1569.35 578.65 L1571.18 577.96 L1573.01 577.27 L1574.84 576.58 L1576.66 575.89 L1578.49 575.20 L1580.32 574.51 L1582.15 573.83 L1583.98 573.14 L1585.81 572.46 L1587.64 571.78 L1589.47 571.09 L1591.30 570.41 L1593.13 569.73 L1594.96 569.05 L1596.79 568.38 L1598.62 567.70 L1600.45 567.02 L1602.28 566.35 L1604.11 565.68 L1605.94 565.00 L1607.76 564.33 L1609.59 563.66 L1611.42 562.99 L1613.25 562.32 L1615.08 561.65 L1616.91 560.99 L1618.74 560.32 L1620.57 559.66 L1622.40 558.99 L1624.23 558.33 L1626.06 557.67 L1627.89 557.01 L1629.72 556.35 L1631.55 555.69 L1633.38 555.03 L1635.21 554.38 L1637.03 553.72 L1638.86 553.07 L1640.69 552.41 L1642.52 551.76 L1644.35 551.11 L1646.18 550.46 L1648.01 549.81 L1649.84 549.16 L1651.67 548.51 L1653.50 547.86 L1655.33 547.22 L1657.16 546.57 L1658.99 545.93 L1660.82 545.29 L1662.65 544.64 L1664.48 544.00 L1666.30 543.36 L1668.13 542.72 L1669.96 542.08 L1671.79 541.45 L1673.62 540.81 L1675.45 540.18 L1677.28 539.54 L1679.11 538.91 L1680.94 538.27 L1682.77 537.64 L1684.60 537.01 L1686.43 536.38 L1688.26 535.75 L1690.09 535.12 L1691.92 534.50 L1693.75 533.87 L1695.57 533.25 L1697.40 532.62 L1699.23 532.00 L1701.06 531.37 L1702.89 530.75 L1704.72 530.13 L1706.55 529.51 L1708.38 528.89 L1710.21 528.28 L1712.04 527.66 L1713.87 527.04 L1715.70 526.43 L1717.53 525.81 L1719.36 525.20 L1721.19 524.58 L1723.02 523.97 L1724.85 523.36 L1726.67 522.75 L1728.50 522.14 L1730.33 521.53 L1732.16 520.93 L1733.99 520.32 L1735.82 519.71 L1737.65 519.11 L1739.48 518.51 L1741.31 517.90 L1743.14 517.30 L1744.97 516.70 L1746.80 516.10 L1748.63 515.50 L1750.46 514.90 L1752.29 514.30 L1754.12 513.70 L1755.94 513.11 L1757.77 512.51 L1759.60 511.92 L1761.43 511.32 L1763.26 510.73 L1765.09 510.14 L1766.92 509.55 L1768.75 508.96 L1770.58 508.37 L1772.41 507.78 L1774.24 507.19 L1776.07 506.60 L1777.90 506.02 L1779.73 505.43 L1781.56 504.85 L1783.39 504.26 L1785.21 503.68 L1787.04 503.10 L1788.87 502.52 L1790.70 501.94 L1792.53 501.36 L1794.36 500.78 L1796.19 500.20 L1798.02 499.62 L1799.85 499.05 L1801.68 498.47 L1803.51 497.90 L1805.34 497.32 L1807.17 496.75 L1809.00 496.18 L1810.83 495.61 L1812.66 495.03 L1814.48 494.46 L1816.31 493.90 L1818.14 493.33 L1819.97 492.76 L1821.80 492.19 L1823.63 491.63 L1825.46 491.06 L1827.29 490.50 L1829.12 489.93 L1830.95 489.37 L1832.78 488.81 L1834.61 488.25 L1836.44 487.69 L1838.27 487.13 L1840.10 486.57 L1841.93 486.01 L1843.76 485.45 L1845.58 484.89 L1847.41 484.34 L1849.24 483.78 L1851.07 483.23 L1852.90 482.67 L1854.73 482.12 L1856.56 481.57 L1858.39 481.02 L1860.22 480.47 L1862.05 479.92 L1863.88 479.37 L1865.71 478.82 L1867.54 478.27 L1869.37 477.73 L1871.20 477.18 L1873.03 476.63 L1874.85 476.09 L1876.68 475.55 L1878.51 475.00 L1880.34 474.46 L1882.17 473.92 L1884.00 473.38 L1885.83 472.84 L1887.66 472.30 L1889.49 471.76 L1891.32 471.22 L1893.15 470.68 L1894.98 470.15 L1896.81 469.61 L1898.64 469.08 L1900.47 468.54 L1902.30 468.01 L1904.12 467.47 L1905.95 466.94 L1907.78 466.41 L1909.61 465.88 L1911.44 465.35 L1913.27 464.82 L1915.10 464.29 L1916.93 463.76 L1918.76 463.24 L1920.59 462.71 L1922.42 462.18 L1924.25 461.66 L1926.08 461.13 L1927.91 460.61 L1929.74 460.09 L1931.57 459.56 L1933.40 459.04 L1935.22 458.52 L1937.05 458.00 L1938.88 457.48 L1940.71 456.96 L1942.54 456.45 L1944.37 455.93 L1946.20 455.41 L1948.03 454.89 L1949.86 454.38 L1951.69 453.86 L1953.52 453.35 L1955.35 452.84 L1957.18 452.32 L1959.01 451.81 L1960.84 451.30 L1962.67 450.79 L1964.49 450.28 L1966.32 449.77 L1968.15 449.26 L1969.98 448.75 L1971.81 448.25 L1973.64 447.74 L1975.47 447.23 L1977.30 446.73 L1979.13 446.22 L1980.96 445.72 L1982.79 445.22 L1984.62 444.71 L1986.45 444.21 L1988.28 443.71 L1990.11 443.21 L1991.94 442.71 L1993.76 442.21 L1995.59 441.71 L1997.42 441.21 L1999.25 440.71 L2001.08 440.22 L2002.91 439.72 L2004.74 439.23 L2006.57 438.73 L2008.40 438.24 L2010.23 437.74 L2012.06 437.25 L2013.89 436.76 L2015.72 436.27 L2017.55 435.78 L2019.38 435.28 L2021.21 434.79 L2023.03 434.31 L2024.86 433.82 L2026.69 433.33 L2028.52 432.84 L2030.35 432.36 L2032.18 431.87 L2034.01 431.38 L2035.84 430.90 L2037.67 430.41 L2039.50 429.93 L2041.33 429.45 L2043.16 428.97 L2044.99 428.48 L2046.82 428.00 L2048.65 427.52 L2050.48 427.04 L2052.31 426.56 L2054.13 426.08 L2055.96 425.61 L2057.79 425.13 L2059.62 424.65 L2061.45 424.18 L2063.28 423.70 L2065.11 423.23 L2066.94 422.75 L2068.77 422.28 L2070.60 421.80 L2072.43 421.33 L2074.26 420.86 L2076.09 420.39 L2077.92 419.92 L2079.75 419.45 L2081.58 418.98 L2083.40 418.51 L2085.23 418.04 L2087.06 417.57 L2088.89 417.11 L2090.72 416.64 L2092.55 416.17 L2094.38 415.71 L2096.21 415.24 L2098.04 414.78 L2099.87 414.31 L2101.70 413.85 L2103.53 413.39 L2105.36 412.93 L2107.19 412.47 L2109.02 412.00 L2110.85 411.54 L2112.67 411.08 L2114.50 410.63 L2116.33 410.17 L2118.16 409.71 L2119.99 409.25 L2121.82 408.79 L2123.65 408.34 L2125.48 407.88 L2126.70 407.58"/>
<path d="M284.50 1635.90 L284.51 1634.39 L284.54 1632.85 L284.58 1631.31 L284.64 1629.73 L284.71 1628.20 L284.80 1626.63 L284.90 1624.95 L285.00 1623.43 L285.13 1621.71 L285.27 1620.04 L285.41 1618.50 L285.57 1616.82 L285.76 1614.97 L285.93 1613.36 L286.14 1611.63 L286.37 1609.76 L286.56 1608.27 L286.77 1606.69 L287.01 1605.02 L287.27 1603.26 L287.56 1601.40 L287.87 1599.43 L288.22 1597.35 L288.61 1595.14 L288.89 1593.61 L289.19 1592.01 L289.51 1590.36 L289.85 1588.64 L290.21 1586.86 L290.60 1585.01 L291.01 1583.09 L291.45 1581.10 L291.93 1579.03 L292.43 1576.89 L292.97 1574.66 L293.55 1572.35 L294.16 1569.95 L294.82 1567.47 L295.52 1564.89 L296.27 1562.21 L297.07 1559.43 L297.93 1556.55 L298.53 1554.54 L299.14 1552.57 L299.75 1550.63 L300.36 1548.73 L300.97 1546.86 L301.58 1545.02 L302.19 1543.21 L302.80 1541.42 L303.41 1539.66 L304.02 1537.93 L304.63 1536.22 L305.24 1534.53 L305.85 1532.86 L306.46 1531.22 L307.07 1529.59 L307.68 1527.99 L308.29 1526.40 L308.90 1524.83 L309.51 1523.27 L310.12 1521.74 L310.73 1520.21 L311.34 1518.71 L311.95 1517.22 L312.56 1515.74 L313.17 1514.28 L313.78 1512.83 L314.39 1511.39 L315.00 1509.97 L315.61 1508.56 L316.22 1507.16 L316.83 1505.77 L317.44 1504.40 L318.66 1501.68 L319.88 1499.00 L321.10 1496.37 L322.32 1493.77 L323.54 1491.21 L324.76 1488.68 L325.98 1486.19 L327.20 1483.72 L328.41 1481.29 L329.63 1478.89 L330.85 1476.52 L332.07 1474.17 L333.29 1471.85 L334.51 1469.56 L335.73 1467.28 L336.95 1465.04 L338.17 1462.81 L339.39 1460.61 L340.61 1458.43 L341.83 1456.27 L343.05 1454.13 L344.27 1452.01 L345.49 1449.90 L346.71 1447.82 L347.93 1445.75 L349.15 1443.70 L350.37 1441.67 L351.59 1439.66 L352.81 1437.66 L354.03 1435.67 L355.25 1433.70 L356.47 1431.75 L357.68 1429.81 L358.90 1427.88 L360.12 1425.97 L361.34 1424.07 L362.56 1422.19 L363.78 1420.31 L365.00 1418.45 L366.22 1416.61 L367.44 1414.77 L368.66 1412.95 L369.88 1411.13 L371.10 1409.33 L372.32 1407.54 L373.54 1405.76 L374.76 1403.99 L375.98 1402.24 L377.20 1400.49 L378.42 1398.75 L379.64 1397.02 L380.86 1395.30 L382.08 1393.59 L383.30 1391.89 L384.52 1390.20 L385.74 1388.52 L386.96 1386.85 L388.17 1385.19 L389.39 1383.53 L390.61 1381.88 L391.83 1380.24 L393.05 1378.61 L394.27 1376.99 L395.49 1375.38 L396.71 1373.77 L397.93 1372.17 L399.15 1370.58 L400.37 1368.99 L401.59 1367.41 L402.81 1365.84 L404.03 1364.28 L405.25 1362.72 L406.47 1361.18 L407.69 1359.63 L408.91 1358.10 L410.13 1356.57 L411.35 1355.04 L412.57 1353.53 L413.79 1352.02 L415.01 1350.51 L416.23 1349.02 L417.44 1347.52 L418.66 1346.04 L419.88 1344.56 L421.10 1343.08 L422.32 1341.62 L423.54 1340.15 L424.76 1338.70 L425.98 1337.24 L427.20 1335.80 L428.42 1334.36 L429.64 1332.92 L430.86 1331.49 L432.08 1330.07 L433.30 1328.65 L434.52 1327.23 L435.74 1325.82 L436.96 1324.42 L438.18 1323.02 L439.40 1321.62 L440.62 1320.23 L441.84 1318.85 L443.06 1317.47 L444.28 1316.09 L445.50 1314.72 L446.71 1313.35 L447.93 1311.99 L449.15 1310.63 L450.37 1309.28 L451.59 1307.93 L452.81 1306.58 L454.03 1305.24 L455.25 1303.91 L456.47 1302.57 L457.69 1301.25 L458.91 1299.92 L460.13 1298.60 L461.35 1297.28 L462.57 1295.97 L463.79 1294.66 L465.01 1293.36 L466.23 1292.06 L467.45 1290.76 L468.67 1289.47 L469.89 1288.18 L471.11 1286.90 L472.33 1285.61 L473.55 1284.33 L474.77 1283.06 L475.99 1281.79 L477.20 1280.52 L478.42 1279.26 L479.64 1278.00 L480.86 1276.74 L482.08 1275.49 L483.30 1274.24 L484.52 1272.99 L485.74 1271.75 L486.96 1270.51 L488.18 1269.27 L489.40 1268.03 L490.62 1266.80 L491.84 1265.58 L493.06 1264.35 L494.28 1263.13 L495.50 1261.91 L496.72 1260.70 L497.94 1259.49 L499.16 1258.28 L500.38 1257.07 L501.60 1255.87 L502.82 1254.67 L504.04 1253.47 L505.26 1252.28 L506.47 1251.09 L507.69 1249.90 L508.91 1248.71 L510.13 1247.53 L511.35 1246.35 L512.57 1245.17 L513.79 1244.00 L515.01 1242.82 L516.23 1241.66 L517.45 1240.49 L518.67 1239.33 L519.89 1238.16 L521.11 1237.01 L522.33 1235.85 L523.55 1234.70 L524.77 1233.55 L525.99 1232.40 L527.21 1231.25 L528.43 1230.11 L529.65 1228.97 L530.87 1227.83 L532.09 1226.70 L533.31 1225.56 L534.53 1224.43 L535.75 1223.30 L536.96 1222.18 L538.18 1221.05 L539.40 1219.93 L540.62 1218.81 L541.84 1217.70 L543.06 1216.58 L544.28 1215.47 L545.50 1214.36 L546.72 1213.25 L547.94 1212.15 L549.16 1211.05 L550.38 1209.95 L551.60 1208.85 L552.82 1207.75 L554.04 1206.66 L555.26 1205.56 L556.48 1204.47 L557.70 1203.39 L558.92 1202.30 L560.14 1201.22 L561.36 1200.14 L562.58 1199.06 L563.80 1197.98 L565.02 1196.91 L566.23 1195.83 L567.45 1194.76 L568.67 1193.69 L569.89 1192.62 L571.11 1191.56 L572.33 1190.50 L573.55 1189.44 L574.77 1188.38 L575.99 1187.32 L577.21 1186.26 L578.43 1185.21 L579.65 1184.16 L580.87 1183.11 L582.09 1182.06 L583.31 1181.02 L584.53 1179.97 L585.75 1178.93 L586.97 1177.89 L588.19 1176.85 L589.41 1175.81 L590.63 1174.78 L591.85 1173.75 L593.07 1172.72 L594.29 1171.69 L595.50 1170.66 L596.72 1169.63 L597.94 1168.61 L599.16 1167.59 L600.38 1166.57 L601.60 1165.55 L602.82 1164.53 L604.04 1163.51 L605.26 1162.50 L606.48 1161.49 L607.70 1160.48 L608.92 1159.47 L610.14 1158.46 L611.36 1157.46 L612.58 1156.45 L613.80 1155.45 L615.02 1154.45 L616.24 1153.45 L617.46 1152.45 L618.68 1151.46 L619.90 1150.46 L621.12 1149.47 L622.34 1148.48 L623.56 1147.49 L624.78 1146.50 L625.99 1145.52 L627.21 1144.53 L628.43 1143.55 L629.65 1142.57 L630.87 1141.59 L632.09 1140.61 L633.31 1139.63 L634.53 1138.65 L635.75 1137.68 L636.97 1136.71 L638.19 1135.74 L639.41 1134.77 L640.63 1133.80 L641.85 1132.83 L643.07 1131.86 L644.29 1130.90 L645.51 1129.94 L646.73 1128.98 L647.95 1128.02 L649.17 1127.06 L650.39 1126.10 L651.61 1125.15 L652.83 1124.19 L654.05 1123.24 L655.26 1122.29 L656.48 1121.34 L657.70 1120.39 L658.92 1119.44 L660.14 1118.50 L661.36 1117.55 L662.58 1116.61 L663.80 1115.67 L665.02 1114.72 L666.24 1113.78 L667.46 1112.85 L668.68 1111.91 L669.90 1110.97 L671.12 1110.04 L672.34 1109.11 L673.56 1108.18 L674.78 1107.25 L676.00 1106.32 L677.22 1105.39 L678.44 1104.46 L679.66 1103.54 L680.88 1102.61 L682.10 1101.69 L683.32 1100.77 L684.53 1099.85 L685.75 1098.93 L686.97 1098.01 L688.19 1097.09 L689.41 1096.18 L690.63 1095.26 L691.85 1094.35 L693.07 1093.44 L694.29 1092.53 L695.51 1091.62 L696.73 1090.71 L697.95 1089.80 L699.17 1088.90 L700.39 1087.99 L701.61 1087.09 L702.83 1086.19 L704.05 1085.29 L705.27 1084.39 L706.49 1083.49 L707.71 1082.59 L708.93 1081.69 L710.15 1080.80 L711.37 1079.90 L712.59 1079.01 L713.81 1078.12 L715.02 1077.22 L716.24 1076.33 L717.46 1075.45 L718.68 1074.56 L719.90 1073.67 L721.12 1072.78 L722.34 1071.90 L723.56 1071.02 L724.78 1070.13 L726.00 1069.25 L727.22 1068.37 L728.44 1067.49 L729.66 1066.61 L730.88 1065.74 L732.10 1064.86 L733.32 1063.99 L734.54 1063.11 L736.37 1061.80 L738.20 1060.50 L740.03 1059.19 L741.86 1057.89 L743.69 1056.59 L745.51 1055.29 L747.34 1054.00 L749.17 1052.70 L751.00 1051.41 L752.83 1050.12 L754.66 1048.84 L756.49 1047.55 L758.32 1046.27 L760.15 1044.99 L761.98 1043.71 L763.81 1042.44 L765.64 1041.16 L767.47 1039.89 L769.30 1038.62 L771.13 1037.35 L772.96 1036.09 L774.78 1034.83 L776.61 1033.56 L778.44 1032.31 L780.27 1031.05 L782.10 1029.79 L783.93 1028.54 L785.76 1027.29 L787.59 1026.04 L789.42 1024.79 L791.25 1023.55 L793.08 1022.30 L794.91 1021.06 L796.74 1019.82 L798.57 1018.59 L800.40 1017.35 L802.23 1016.12 L804.05 1014.89 L805.88 1013.66 L807.71 1012.43 L809.54 1011.20 L811.37 1009.98 L813.20 1008.76 L815.03 1007.54 L816.86 1006.32 L818.69 1005.10 L820.52 1003.89 L822.35 1002.67 L824.18 1001.46 L826.01 1000.25 L827.84 999.05 L829.67 997.84 L831.50 996.64 L833.32 995.43 L835.15 994.23 L836.98 993.03 L838.81 991.84 L840.64 990.64 L842.47 989.45 L844.30 988.26 L846.13 987.07 L847.96 985.88 L849.79 984.69 L851.62 983.51 L853.45 982.32 L855.28 981.14 L857.11 979.96 L858.94 978.78 L860.77 977.60 L862.60 976.43 L864.42 975.26 L866.25 974.08 L868.08 972.91 L869.91 971.74 L871.74 970.58 L873.57 969.41 L875.40 968.25 L877.23 967.08 L879.06 965.92 L880.89 964.76 L882.72 963.61 L884.55 962.45 L886.38 961.30 L888.21 960.14 L890.04 958.99 L891.87 957.84 L893.69 956.69 L895.52 955.55 L897.35 954.40 L899.18 953.26 L901.01 952.11 L902.84 950.97 L904.67 949.83 L906.50 948.69 L908.33 947.56 L910.16 946.42 L911.99 945.29 L913.82 944.16 L915.65 943.02 L917.48 941.89 L919.31 940.77 L921.14 939.64 L922.96 938.51 L924.79 937.39 L926.62 936.27 L928.45 935.15 L930.28 934.03 L932.11 932.91 L933.94 931.79 L935.77 930.68 L937.60 929.56 L939.43 928.45 L941.26 927.34 L943.09 926.23 L944.92 925.12 L946.75 924.01 L948.58 922.91 L950.41 921.80 L952.23 920.70 L954.06 919.60 L955.89 918.50 L957.72 917.40 L959.55 916.30 L961.38 915.20 L963.21 914.11 L965.04 913.01 L966.87 911.92 L968.70 910.83 L970.53 909.74 L972.36 908.65 L974.19 907.56 L976.02 906.47 L977.85 905.39 L979.68 904.30 L981.51 903.22 L983.33 902.14 L985.16 901.06 L986.99 899.98 L988.82 898.90 L990.65 897.83 L992.48 896.75 L994.31 895.68 L996.14 894.60 L997.97 893.53 L999.80 892.46 L1001.63 891.39 L1003.46 890.32 L1005.29 889.26 L1007.12 888.19 L1008.95 887.12 L1010.78 886.06 L1012.60 885.00 L1014.43 883.94 L1016.26 882.88 L1018.09 881.82 L1019.92 880.76 L1021.75 879.70 L1023.58 878.65 L1025.41 877.59 L1027.24 876.54 L1029.07 875.49 L1030.90 874.44 L1032.73 873.39 L1034.56 872.34 L1036.39 871.29 L1038.22 870.25 L1040.05 869.20 L1041.87 868.16 L1043.70 867.11 L1045.53 866.07 L1047.36 865.03 L1049.19 863.99 L1051.02 862.95 L1052.85 861.91 L1054.68 860.88 L1056.51 859.84 L1058.34 858.81 L1060.17 857.77 L1062.00 856.74 L1063.83 855.71 L1065.66 854.68 L1067.49 853.65 L1069.32 852.62 L1071.14 851.60 L1072.97 850.57 L1074.80 849.55 L1076.63 848.52 L1078.46 847.50 L1080.29 846.48 L1082.12 845.46 L1083.95 844.44 L1085.78 843.42 L1087.61 842.40 L1089.44 841.38 L1091.27 840.37 L1093.10 839.35 L1094.93 838.34 L1096.76 837.33 L1098.59 836.32 L1100.42 835.30 L1102.24 834.30 L1104.07 833.29 L1105.90 832.28 L1107.73 831.27 L1109.56 830.27 L1111.39 829.26 L1113.22 828.26 L1115.05 827.25 L1116.88 826.25 L1118.71 825.25 L1120.54 824.25 L1122.37 823.25 L1124.20 822.25 L1126.03 821.26 L1127.86 820.26 L1129.69 819.27 L1131.51 818.27 L1133.34 817.28 L1135.17 816.29 L1137.00 815.29 L1138.83 814.30 L1140.66 813.31 L1142.49 812.33 L1144.32 811.34 L1146.15 810.35 L1147.98 809.37 L1149.81 808.38 L1151.64 807.40 L1153.47 806.41 L1155.30 805.43 L1157.13 804.45 L1158.96 803.47 L1160.78 802.49 L1162.61 801.51 L1164.44 800.53 L1166.27 799.56 L1168.10 798.58 L1169.93 797.60 L1171.76 796.63 L1173.59 795.66 L1175.42 794.68 L1177.25 793.71 L1179.08 792.74 L1180.91 791.77 L1182.74 790.80 L1184.57 789.83 L1186.40 788.87 L1188.23 787.90 L1190.05 786.94 L1191.88 785.97 L1193.71 785.01 L1195.54 784.04 L1197.37 783.08 L1199.20 782.12 L1201.03 781.16 L1202.86 780.20 L1204.69 779.24 L1206.52 778.28 L1208.35 777.33 L1210.18 776.37 L1212.01 775.41 L1213.84 774.46 L1215.67 773.50 L1217.50 772.55 L1219.33 771.60 L1221.15 770.65 L1222.98 769.70 L1224.81 768.75 L1226.64 767.80 L1228.47 766.85 L1230.30 765.90 L1232.13 764.96 L1233.96 764.01 L1235.79 763.07 L1237.62 762.12 L1239.45 761.18 L1241.28 760.23 L1243.11 759.29 L1244.94 758.35 L1246.77 757.41 L1248.60 756.47 L1250.42 755.53 L1252.25 754.60 L1254.08 753.66 L1255.91 752.72 L1257.74 751.79 L1259.57 750.85 L1261.40 749.92 L1263.23 748.98 L1265.06 748.05 L1266.89 747.12 L1268.72 746.19 L1270.55 745.26 L1272.38 744.33 L1274.21 743.40 L1276.04 742.47 L1277.87 741.54 L1279.69 740.62 L1281.52 739.69 L1283.35 738.77 L1285.18 737.84 L1287.01 736.92 L1288.84 736.00 L1290.67 735.07 L1292.50 734.15 L1294.33 733.23 L1296.16 732.31 L1297.99 731.39 L1299.82 730.47 L1301.65 729.56 L1303.48 728.64 L1305.31 727.72 L1307.14 726.81 L1308.96 725.89 L1310.79 724.98 L1312.62 724.07 L1314.45 723.15 L1316.28 722.24 L1318.11 721.33 L1319.94 720.42 L1321.77 719.51 L1323.60 718.60 L1325.43 717.69 L1327.26 716.78 L1329.09 715.88 L1330.92 714.97 L1332.75 714.06 L1334.58 713.16 L1336.41 712.25 L1338.24 711.35 L1340.06 710.45 L1341.89 709.55 L1343.72 708.64 L1345.55 707.74 L1347.38 706.84 L1349.21 705.94 L1351.04 705.04 L1352.87 704.15 L1354.70 703.25 L1356.53 702.35 L1358.36 701.46 L1360.19 700.56 L1362.02 699.67 L1363.85 698.77 L1365.68 697.88 L1367.51 696.98 L1369.33 696.09 L1371.16 695.20 L1372.99 694.31 L1374.82 693.42 L1376.65 692.53 L1378.48 691.64 L1380.31 690.75 L1382.14 689.87 L1383.97 688.98 L1385.80 688.09 L1387.63 687.21 L1389.46 686.32 L1391.29 685.44 L1393.12 684.55 L1394.95 683.67 L1396.78 682.79 L1398.60 681.91 L1400.43 681.02 L1402.26 680.14 L1404.09 679.26 L1405.92 678.38 L1407.75 677.51 L1409.58 676.63 L1411.41 675.75 L1413.24 674.87 L1415.07 674.00 L1416.90 673.12 L1418.73 672.25 L1420.56 671.37 L1422.39 670.50 L1424.22 669.62 L1426.05 668.75 L1427.88 667.88 L1429.70 667.01 L1431.53 666.14 L1433.36 665.27 L1435.19 664.40 L1437.02 663.53 L1438.85 662.66 L1440.68 661.79 L1442.51 660.93 L1444.34 660.06 L1446.17 659.19 L1448.00 658.33 L1449.83 657.46 L1451.66 656.60 L1453.49 655.74 L1455.32 654.87 L1457.15 654.01 L1458.97 653.15 L1460.80 652.29 L1462.63 651.43 L1464.46 650.57 L1466.29 649.71 L1468.12 648.85 L1469.95 647.99 L1471.78 647.13 L1473.61 646.28 L1475.44 645.42 L1477.27 644.56 L1479.10 643.71 L1480.93 642.85 L1482.76 642.00 L1484.59 641.15 L1486.42 640.29 L1488.24 639.44 L1490.07 638.59 L1491.90 637.74 L1493.73 636.89 L1495.56 636.04 L1497.39 635.19 L1499.22 634.34 L1501.05 633.49 L1502.88 632.64 L1504.71 631.79 L1506.54 630.95 L1508.37 630.10 L1510.20 629.25 L1512.03 628.41 L1513.86 627.56 L1515.69 626.72 L1517.51 625.88 L1519.34 625.03 L1521.17 624.19 L1523.00 623.35 L1524.83 622.51 L1526.66 621.67 L1528.49 620.83 L1530.32 619.99 L1532.15 619.15 L1533.98 618.31 L1535.81 617.47 L1537.64 616.63 L1539.47 615.79 L1541.30 614.96 L1543.13 614.12 L1544.96 613.29 L1546.79 612.45 L1548.61 611.62 L1550.44 610.78 L1552.27 609.95 L1554.10 609.12 L1555.93 608.28 L1557.76 607.45 L1559.59 606.62 L1561.42 605.79 L1563.25 604.96 L1565.08 604.13 L1566.91 603.30 L1567.12 603.20" stroke-dasharray="42.5 27.45 6 27.45"/>
<path d="M1567.12 603.20 L1568.74 602.47 L1570.57 601.64 L1572.40 600.82 L1574.23 599.99 L1576.06 599.16 L1577.88 598.34 L1579.71 597.51 L1581.54 596.69 L1583.37 595.86 L1585.20 595.04 L1587.03 594.21 L1588.86 593.39 L1590.69 592.57 L1592.52 591.75 L1594.35 590.92 L1596.18 590.10 L1598.01 589.28 L1599.84 588.46 L1601.67 587.64 L1603.50 586.82 L1605.33 586.00 L1607.15 585.19 L1608.98 584.37 L1610.81 583.55 L1612.64 582.73 L1614.47 581.92 L1616.30 581.10 L1618.13 580.29 L1619.96 579.47 L1621.79 578.66 L1623.62 577.85 L1625.45 577.03 L1627.28 576.22 L1629.11 575.41 L1630.94 574.60 L1632.77 573.78 L1634.60 572.97 L1636.42 572.16 L1638.25 571.35 L1640.08 570.54 L1641.91 569.74 L1643.74 568.93 L1645.57 568.12 L1647.40 567.31 L1649.23 566.50 L1651.06 565.70 L1652.89 564.89 L1654.72 564.09 L1656.55 563.28 L1658.38 562.48 L1660.21 561.67 L1662.04 560.87 L1663.87 560.07 L1665.70 559.26 L1667.52 558.46 L1669.35 557.66 L1671.18 556.86 L1673.01 556.06 L1674.84 555.26 L1676.67 554.46 L1678.50 553.66 L1680.33 552.86 L1682.16 552.06 L1683.99 551.26 L1685.82 550.46 L1687.65 549.67 L1689.48 548.87 L1691.31 548.07 L1693.14 547.28 L1694.97 546.48 L1696.79 545.69 L1698.62 544.89 L1700.45 544.10 L1702.28 543.30 L1704.11 542.51 L1705.94 541.72 L1707.77 540.93 L1709.60 540.13 L1711.43 539.34 L1713.26 538.55 L1715.09 537.76 L1716.92 536.97 L1718.75 536.18 L1720.58 535.39 L1722.41 534.60 L1724.24 533.82 L1726.06 533.03 L1727.89 532.24 L1729.72 531.45 L1731.55 530.67 L1733.38 529.88 L1735.21 529.09 L1737.04 528.31 L1738.87 527.52 L1740.70 526.74 L1742.53 525.96 L1744.36 525.17 L1746.19 524.39 L1748.02 523.61 L1749.85 522.82 L1751.68 522.04 L1753.51 521.26 L1755.33 520.48 L1757.16 519.70 L1758.99 518.92 L1760.82 518.14 L1762.65 517.36 L1764.48 516.58 L1766.31 515.80 L1768.14 515.03 L1769.97 514.25 L1771.80 513.47 L1773.63 512.69 L1775.46 511.92 L1777.29 511.14 L1779.12 510.37 L1780.95 509.59 L1782.78 508.82 L1784.61 508.04 L1786.43 507.27 L1788.26 506.49 L1790.09 505.72 L1791.92 504.95 L1793.75 504.18 L1795.58 503.41 L1797.41 502.63 L1799.24 501.86 L1801.07 501.09 L1802.90 500.32 L1804.73 499.55 L1806.56 498.78 L1808.39 498.01 L1810.22 497.25 L1812.05 496.48 L1813.88 495.71 L1815.70 494.94 L1817.53 494.18 L1819.36 493.41 L1821.19 492.64 L1823.02 491.88 L1824.85 491.11 L1826.68 490.35 L1828.51 489.58 L1830.34 488.82 L1832.17 488.05 L1834.00 487.29 L1835.83 486.53 L1837.66 485.77 L1839.49 485.00 L1841.32 484.24 L1843.15 483.48 L1844.97 482.72 L1846.80 481.96 L1848.63 481.20 L1850.46 480.44 L1852.29 479.68 L1854.12 478.92 L1855.95 478.16 L1857.78 477.40 L1859.61 476.64 L1861.44 475.89 L1863.27 475.13 L1865.10 474.37 L1866.93 473.62 L1868.76 472.86 L1870.59 472.11 L1872.42 471.35 L1874.24 470.60 L1876.07 469.84 L1877.90 469.09 L1879.73 468.33 L1881.56 467.58 L1883.39 466.83 L1885.22 466.07 L1887.05 465.32 L1888.88 464.57 L1890.71 463.82 L1892.54 463.07 L1894.37 462.32 L1896.20 461.57 L1898.03 460.82 L1899.86 460.07 L1901.69 459.32 L1903.52 458.57 L1905.34 457.82 L1907.17 457.07 L1909.00 456.32 L1910.83 455.58 L1912.66 454.83 L1914.49 454.08 L1916.32 453.34 L1918.15 452.59 L1919.98 451.85 L1921.81 451.10 L1923.64 450.36 L1925.47 449.61 L1927.30 448.87 L1929.13 448.12 L1930.96 447.38 L1932.79 446.64 L1934.61 445.89 L1936.44 445.15 L1938.27 444.41 L1940.10 443.67 L1941.93 442.93 L1943.76 442.19 L1945.59 441.45 L1947.42 440.71 L1949.25 439.97 L1951.08 439.23 L1952.91 438.49 L1954.74 437.75 L1956.57 437.01 L1958.40 436.27 L1960.23 435.53 L1962.06 434.80 L1963.88 434.06 L1965.71 433.32 L1967.54 432.59 L1969.37 431.85 L1971.20 431.12 L1973.03 430.38 L1974.86 429.65 L1976.69 428.91 L1978.52 428.18 L1980.35 427.44 L1982.18 426.71 L1984.01 425.98 L1985.84 425.24 L1987.67 424.51 L1989.50 423.78 L1991.33 423.05 L1993.15 422.32 L1994.98 421.59 L1996.81 420.85 L1998.64 420.12 L2000.47 419.39 L2002.30 418.66 L2004.13 417.94 L2005.96 417.21 L2007.79 416.48 L2009.62 415.75 L2011.45 415.02 L2013.28 414.29 L2015.11 413.57 L2016.94 412.84 L2018.77 412.11 L2020.60 411.39 L2022.43 410.66 L2024.25 409.93 L2026.08 409.21 L2027.91 408.48 L2029.74 407.76 L2031.57 407.04 L2033.40 406.31 L2035.23 405.59 L2037.06 404.86 L2038.89 404.14 L2040.72 403.42 L2042.55 402.70 L2044.38 401.97 L2046.21 401.25 L2048.04 400.53 L2049.87 399.81 L2051.70 399.09 L2053.52 398.37 L2055.35 397.65 L2057.18 396.93 L2059.01 396.21 L2060.84 395.49 L2062.67 394.77 L2064.50 394.05 L2066.33 393.34 L2068.16 392.62 L2069.99 391.90 L2071.82 391.18 L2073.65 390.47 L2075.48 389.75 L2077.31 389.03 L2079.14 388.32 L2080.97 387.60 L2082.79 386.89 L2084.62 386.17 L2086.45 385.46 L2088.28 384.74 L2090.11 384.03 L2091.94 383.32 L2093.77 382.60 L2095.60 381.89 L2097.43 381.18 L2099.26 380.46 L2101.09 379.75 L2102.92 379.04 L2104.75 378.33 L2106.58 377.62 L2108.41 376.91 L2110.24 376.20 L2112.06 375.49 L2113.89 374.78 L2115.72 374.07 L2117.55 373.36 L2119.38 372.65 L2121.21 371.94 L2123.04 371.23 L2124.87 370.52 L2126.70 369.82" stroke-dasharray="42.5 27.45 6 27.45"/>
<path d="M284.50 1635.90 L285.32 1634.64 L286.19 1633.31 L287.09 1631.94 L287.99 1630.59 L288.89 1629.23 L289.85 1627.80 L290.80 1626.37 L291.69 1625.06 L292.70 1623.56 L293.55 1622.31 L294.49 1620.94 L295.52 1619.43 L296.66 1617.77 L297.93 1615.96 L299.14 1614.22 L300.36 1612.49 L301.57 1610.77 L302.79 1609.06 L304.00 1607.36 L305.22 1605.67 L306.43 1603.99 L307.65 1602.32 L308.86 1600.66 L310.08 1599.01 L311.30 1597.37 L312.51 1595.74 L313.73 1594.12 L314.94 1592.51 L316.16 1590.91 L317.37 1589.31 L318.59 1587.73 L319.80 1586.15 L321.02 1584.59 L322.23 1583.03 L323.45 1581.48 L324.67 1579.94 L325.88 1578.41 L327.10 1576.89 L328.31 1575.38 L329.53 1573.87 L330.74 1572.37 L331.96 1570.88 L333.17 1569.40 L334.39 1567.93 L335.60 1566.47 L336.82 1565.01 L338.04 1563.56 L339.25 1562.12 L340.47 1560.69 L341.68 1559.27 L342.90 1557.85 L344.11 1556.44 L345.33 1555.04 L346.54 1553.65 L347.76 1552.26 L348.97 1550.88 L350.19 1549.51 L351.41 1548.14 L352.62 1546.79 L353.84 1545.44 L355.05 1544.09 L356.27 1542.76 L357.48 1541.43 L358.70 1540.11 L359.91 1538.79 L361.13 1537.48 L362.34 1536.18 L363.56 1534.89 L364.78 1533.60 L365.99 1532.32 L367.21 1531.05 L368.42 1529.78 L369.64 1528.52 L370.85 1527.26 L372.07 1526.01 L373.28 1524.77 L374.50 1523.53 L375.71 1522.30 L376.93 1521.08 L378.15 1519.86 L379.36 1518.65 L380.58 1517.45 L381.79 1516.25 L383.01 1515.05 L384.22 1513.87 L385.44 1512.68 L386.65 1511.51 L387.87 1510.34 L389.08 1509.17 L390.30 1508.02 L391.52 1506.86 L392.73 1505.72 L393.95 1504.57 L395.16 1503.44 L396.38 1502.31 L397.59 1501.18 L398.81 1500.06 L400.02 1498.95 L401.24 1497.84 L402.45 1496.74 L403.67 1495.64 L404.89 1494.54 L406.10 1493.46 L407.32 1492.37 L408.53 1491.30 L409.75 1490.22 L410.96 1489.16 L412.18 1488.09 L413.39 1487.04 L414.61 1485.98 L415.82 1484.93 L417.04 1483.89 L418.26 1482.85 L419.47 1481.82 L420.69 1480.79 L421.90 1479.77 L423.12 1478.75 L424.33 1477.74 L425.55 1476.73 L426.76 1475.72 L427.98 1474.72 L429.19 1473.72 L430.41 1472.73 L431.63 1471.75 L432.84 1470.76 L434.06 1469.79 L435.27 1468.81 L436.49 1467.84 L437.70 1466.88 L438.92 1465.92 L440.13 1464.96 L441.35 1464.01 L442.56 1463.06 L443.78 1462.12 L445.00 1461.18 L446.21 1460.24 L447.43 1459.31 L448.64 1458.38 L449.86 1457.46 L451.07 1456.54 L452.29 1455.63 L453.50 1454.72 L454.72 1453.81 L455.93 1452.91 L457.15 1452.01 L458.37 1451.11 L459.58 1450.22 L460.80 1449.33 L462.01 1448.45 L463.23 1447.57 L465.05 1446.25 L466.87 1444.95 L468.70 1443.65 L470.52 1442.36 L472.34 1441.08 L474.17 1439.81 L475.99 1438.55 L477.81 1437.29 L479.64 1436.04 L481.46 1434.80 L483.28 1433.57 L485.11 1432.34 L486.93 1431.13 L488.75 1429.92 L490.57 1428.71 L492.40 1427.52 L494.22 1426.33 L496.04 1425.15 L497.87 1423.97 L499.69 1422.81 L501.51 1421.65 L503.34 1420.49 L505.16 1419.35 L506.98 1418.21 L508.81 1417.08 L510.63 1415.95 L512.45 1414.83 L514.28 1413.72 L516.10 1412.61 L517.92 1411.51 L519.75 1410.42 L521.57 1409.33 L523.39 1408.25 L525.22 1407.18 L527.04 1406.11 L528.86 1405.05 L530.68 1403.99 L532.51 1402.94 L534.33 1401.90 L536.15 1400.86 L537.98 1399.83 L539.80 1398.80 L541.62 1397.78 L543.45 1396.77 L545.27 1395.76 L547.09 1394.76 L548.92 1393.76 L550.74 1392.77 L552.56 1391.78 L554.39 1390.80 L556.21 1389.82 L558.03 1388.85 L559.86 1387.89 L561.68 1386.93 L563.50 1385.97 L565.33 1385.02 L567.15 1384.08 L568.97 1383.14 L570.79 1382.20 L572.62 1381.27 L574.44 1380.35 L576.26 1379.43 L578.09 1378.52 L579.91 1377.61 L581.73 1376.70 L583.56 1375.80 L585.38 1374.91 L587.20 1374.02 L589.03 1373.13 L590.85 1372.25 L592.67 1371.37 L594.50 1370.50 L596.32 1369.64 L598.14 1368.77 L599.97 1367.91 L601.79 1367.06 L603.61 1366.21 L605.44 1365.37 L607.26 1364.52 L609.08 1363.69 L610.90 1362.86 L612.73 1362.03 L614.55 1361.20 L616.37 1360.38 L618.20 1359.57 L620.02 1358.76 L621.84 1357.95 L623.67 1357.15 L625.49 1356.35 L627.31 1355.55 L629.14 1354.76 L630.96 1353.97 L632.78 1353.19 L634.61 1352.41 L636.43 1351.63 L638.25 1350.86 L640.08 1350.09 L641.90 1349.33 L643.72 1348.57 L645.55 1347.81 L647.37 1347.05 L649.19 1346.30 L651.01 1345.56 L652.84 1344.82 L654.66 1344.08 L656.48 1343.34 L658.31 1342.61 L660.13 1341.88 L661.95 1341.16 L663.78 1340.43 L665.60 1339.71 L667.42 1339.00 L669.25 1338.29 L671.07 1337.58 L672.89 1336.88 L674.72 1336.17 L676.54 1335.48 L678.36 1334.78 L680.19 1334.09 L682.01 1333.40 L683.83 1332.71 L685.66 1332.03 L687.48 1331.35 L689.30 1330.68 L691.12 1330.00 L692.95 1329.33 L694.77 1328.67 L696.59 1328.00 L698.42 1327.34 L700.24 1326.68 L702.06 1326.03 L703.89 1325.38 L705.71 1324.73 L707.53 1324.08 L709.36 1323.44 L711.18 1322.80 L713.00 1322.16 L714.83 1321.53 L716.65 1320.90 L718.47 1320.27 L720.30 1319.64 L722.12 1319.02 L723.94 1318.40 L725.77 1317.78 L727.59 1317.16 L729.41 1316.55 L731.23 1315.94 L733.06 1315.33 L734.88 1314.73 L736.70 1314.13 L738.53 1313.53 L740.35 1312.93 L742.17 1312.34 L744.00 1311.74 L745.82 1311.15 L747.64 1310.57 L749.47 1309.98 L751.29 1309.40 L753.11 1308.82 L754.94 1308.25 L756.76 1307.67 L758.58 1307.10 L760.41 1306.53 L762.23 1305.96 L764.05 1305.40 L765.88 1304.84 L767.70 1304.28 L769.52 1303.72 L771.34 1303.16 L773.17 1302.61 L774.99 1302.06 L776.81 1301.51 L778.64 1300.96 L780.46 1300.42 L782.28 1299.88 L784.11 1299.34 L785.93 1298.80 L787.75 1298.27 L789.58 1297.73 L791.40 1297.20 L793.22 1296.67 L795.05 1296.15 L796.87 1295.62 L798.69 1295.10 L800.52 1294.58 L802.34 1294.06 L804.16 1293.55 L805.99 1293.03 L807.81 1292.52 L809.63 1292.01 L811.45 1291.50 L813.28 1291.00 L815.10 1290.49 L816.92 1289.99 L818.75 1289.49 L820.57 1288.99 L822.39 1288.50 L824.22 1288.00 L826.04 1287.51 L827.86 1287.02 L829.69 1286.53 L831.51 1286.05 L833.33 1285.56 L835.16 1285.08 L836.98 1284.60 L838.80 1284.12 L840.63 1283.65 L842.45 1283.17 L844.27 1282.70 L846.10 1282.23 L847.92 1281.76 L849.74 1281.29 L851.56 1280.82 L853.39 1280.36 L855.21 1279.89 L857.03 1279.43 L858.86 1278.98 L860.68 1278.52 L862.50 1278.06 L864.33 1277.61 L866.15 1277.16 L867.97 1276.71 L869.80 1276.26 L871.62 1275.81 L873.44 1275.36 L875.27 1274.92 L877.09 1274.48 L878.91 1274.04 L880.74 1273.60 L882.56 1273.16 L884.38 1272.73 L886.21 1272.29 L888.03 1271.86 L889.85 1271.43 L891.67 1271.00 L893.50 1270.57 L895.32 1270.15 L897.14 1269.72 L898.97 1269.30 L900.79 1268.88 L902.61 1268.46 L904.44 1268.04 L906.26 1267.62 L908.08 1267.21 L909.91 1266.79 L911.73 1266.38 L913.55 1265.97 L915.38 1265.56 L917.20 1265.15 L919.02 1264.74 L920.85 1264.34 L922.67 1263.93 L924.49 1263.53 L926.32 1263.13 L928.14 1262.73 L929.96 1262.33 L931.78 1261.94 L933.61 1261.54 L935.43 1261.15 L937.25 1260.75 L939.08 1260.36 L940.90 1259.97 L942.72 1259.59 L944.55 1259.20 L946.37 1258.81 L948.19 1258.43 L950.02 1258.04 L951.84 1257.66 L953.66 1257.28 L955.49 1256.90 L957.31 1256.53 L959.13 1256.15 L960.96 1255.77 L962.78 1255.40 L964.60 1255.03 L966.43 1254.66 L968.25 1254.28 L970.07 1253.92 L971.89 1253.55 L973.72 1253.18 L975.54 1252.82 L977.36 1252.45 L979.19 1252.09 L981.01 1251.73 L982.83 1251.37 L984.66 1251.01 L986.48 1250.65 L988.30 1250.29 L990.13 1249.94 L991.95 1249.58 L993.77 1249.23 L995.60 1248.88 L997.42 1248.53 L999.24 1248.18 L1001.07 1247.83 L1002.89 1247.48 L1004.71 1247.14 L1006.54 1246.79 L1008.36 1246.45 L1010.18 1246.10 L1012.00 1245.76 L1013.83 1245.42 L1015.65 1245.08 L1017.47 1244.74 L1019.30 1244.41 L1021.12 1244.07 L1022.94 1243.73 L1024.77 1243.40 L1026.59 1243.07 L1028.41 1242.74 L1030.24 1242.41 L1032.06 1242.08 L1033.88 1241.75 L1035.71 1241.42 L1037.53 1241.09 L1039.35 1240.77 L1041.18 1240.44 L1043.00 1240.12 L1044.82 1239.80 L1046.65 1239.47 L1048.47 1239.15 L1050.29 1238.83 L1052.11 1238.52 L1053.94 1238.20 L1055.76 1237.88 L1057.58 1237.57 L1059.41 1237.25 L1061.23 1236.94 L1063.05 1236.63 L1064.88 1236.31 L1066.70 1236.00 L1068.52 1235.69 L1070.35 1235.39 L1072.17 1235.08 L1073.99 1234.77 L1075.82 1234.47 L1077.64 1234.16 L1079.46 1233.86 L1081.29 1233.55 L1083.11 1233.25 L1084.93 1232.95 L1086.76 1232.65 L1088.58 1232.35 L1090.40 1232.05 L1092.22 1231.75 L1094.05 1231.46 L1095.87 1231.16 L1097.69 1230.87 L1099.52 1230.57 L1101.34 1230.28 L1103.16 1229.99 L1104.99 1229.70 L1106.81 1229.41 L1108.63 1229.12 L1110.46 1228.83 L1112.28 1228.54 L1114.10 1228.25 L1115.93 1227.97 L1117.75 1227.68 L1119.57 1227.40 L1121.40 1227.12 L1123.22 1226.83 L1125.04 1226.55 L1126.87 1226.27 L1128.69 1225.99 L1130.51 1225.71 L1132.33 1225.43 L1134.16 1225.15 L1135.98 1224.88 L1137.80 1224.60 L1139.63 1224.33 L1141.45 1224.05 L1143.27 1223.78 L1145.10 1223.51 L1146.92 1223.23 L1148.74 1222.96 L1150.57 1222.69 L1152.39 1222.42 L1154.21 1222.15 L1156.04 1221.88 L1157.86 1221.62 L1159.68 1221.35 L1161.51 1221.09 L1163.33 1220.82 L1165.15 1220.56 L1166.98 1220.29 L1168.80 1220.03 L1170.62 1219.77 L1172.44 1219.51 L1174.27 1219.25 L1176.09 1218.99 L1177.91 1218.73 L1179.74 1218.47 L1181.56 1218.21 L1183.38 1217.95 L1185.21 1217.70 L1187.03 1217.44 L1188.85 1217.19 L1190.68 1216.93 L1192.50 1216.68 L1194.32 1216.43 L1196.15 1216.18 L1197.97 1215.92 L1199.79 1215.67 L1201.62 1215.42 L1203.44 1215.18 L1205.26 1214.93 L1207.09 1214.68 L1208.91 1214.43 L1210.73 1214.19 L1212.56 1213.94 L1214.38 1213.70 L1216.20 1213.45 L1218.02 1213.21 L1219.85 1212.97 L1221.67 1212.72 L1223.49 1212.48 L1225.32 1212.24 L1227.14 1212.00 L1228.96 1211.76 L1230.79 1211.52 L1232.61 1211.28 L1234.43 1211.05 L1236.26 1210.81 L1238.08 1210.57 L1239.90 1210.34 L1241.73 1210.10 L1243.55 1209.87 L1245.37 1209.63 L1247.20 1209.40 L1249.02 1209.17 L1250.84 1208.94 L1252.67 1208.70 L1254.49 1208.47 L1256.31 1208.24 L1258.13 1208.01 L1259.96 1207.79 L1261.78 1207.56 L1263.60 1207.33 L1265.43 1207.10 L1267.25 1206.88 L1269.07 1206.65 L1270.90 1206.42 L1272.72 1206.20 L1274.54 1205.98 L1276.37 1205.75 L1278.19 1205.53 L1280.01 1205.31 L1281.84 1205.09 L1283.66 1204.86 L1285.48 1204.64 L1287.31 1204.42 L1289.13 1204.21 L1290.95 1203.99 L1292.78 1203.77 L1294.60 1203.55 L1296.42 1203.33 L1298.24 1203.12 L1300.07 1202.90 L1301.89 1202.69 L1303.71 1202.47 L1305.54 1202.26 L1307.36 1202.04 L1309.18 1201.83 L1311.01 1201.62 L1312.83 1201.40 L1314.65 1201.19 L1316.48 1200.98 L1318.30 1200.77 L1320.12 1200.56 L1321.95 1200.35 L1323.77 1200.14 L1325.59 1199.94 L1327.42 1199.73 L1329.24 1199.52 L1331.06 1199.31 L1332.89 1199.11 L1334.71 1198.90 L1336.53 1198.70 L1338.35 1198.49 L1340.18 1198.29 L1342.00 1198.08 L1343.82 1197.88 L1345.65 1197.68 L1347.47 1197.48 L1349.29 1197.27 L1351.12 1197.07 L1352.94 1196.87 L1354.76 1196.67 L1356.59 1196.47 L1358.41 1196.27 L1360.23 1196.08 L1362.06 1195.88 L1363.88 1195.68 L1365.70 1195.48 L1367.53 1195.29 L1369.35 1195.09 L1371.17 1194.89 L1373.00 1194.70 L1374.82 1194.50 L1376.64 1194.31 L1378.46 1194.12 L1380.29 1193.92 L1382.11 1193.73 L1383.93 1193.54 L1385.76 1193.35 L1387.58 1193.16 L1389.40 1192.96 L1391.23 1192.77 L1393.05 1192.58 L1394.87 1192.39 L1396.70 1192.21 L1398.52 1192.02 L1400.34 1191.83 L1402.17 1191.64 L1403.99 1191.45 L1405.81 1191.27 L1407.64 1191.08 L1409.46 1190.89 L1411.28 1190.71 L1413.11 1190.52 L1414.93 1190.34 L1416.75 1190.16 L1418.57 1189.97 L1420.40 1189.79 L1422.22 1189.61 L1424.04 1189.42 L1425.87 1189.24 L1427.69 1189.06 L1429.51 1188.88 L1431.34 1188.70 L1433.16 1188.52 L1434.98 1188.34 L1436.81 1188.16 L1438.63 1187.98 L1440.45 1187.80 L1442.28 1187.62 L1444.10 1187.45 L1445.92 1187.27 L1447.75 1187.09 L1449.57 1186.92 L1451.39 1186.74 L1453.22 1186.56 L1455.04 1186.39 L1456.86 1186.21 L1458.68 1186.04 L1460.51 1185.87 L1462.33 1185.69 L1464.15 1185.52 L1465.98 1185.35 L1467.80 1185.17 L1469.62 1185.00 L1471.45 1184.83 L1473.27 1184.66 L1475.09 1184.49 L1476.92 1184.32 L1478.74 1184.15 L1480.56 1183.98 L1482.39 1183.81 L1484.21 1183.64 L1486.03 1183.47 L1487.86 1183.30 L1489.68 1183.14 L1491.50 1182.97 L1493.33 1182.80 L1495.15 1182.64 L1496.97 1182.47 L1498.79 1182.30 L1500.62 1182.14 L1502.44 1181.97 L1504.26 1181.81 L1506.09 1181.64 L1507.91 1181.48 L1509.73 1181.32 L1511.56 1181.15 L1513.38 1180.99 L1515.20 1180.83 L1517.03 1180.67 L1518.85 1180.51 L1520.67 1180.34 L1522.50 1180.18 L1524.32 1180.02 L1526.14 1179.86 L1527.97 1179.70 L1529.79 1179.54 L1531.61 1179.38 L1533.44 1179.23 L1535.26 1179.07 L1537.08 1178.91 L1538.90 1178.75 L1540.73 1178.59 L1542.55 1178.44 L1544.37 1178.28 L1546.20 1178.12 L1548.02 1177.97 L1549.84 1177.81 L1551.67 1177.66 L1553.49 1177.50 L1555.31 1177.35 L1557.14 1177.19 L1558.96 1177.04 L1560.78 1176.88 L1562.61 1176.73 L1564.43 1176.58 L1566.25 1176.43 L1568.08 1176.27 L1569.90 1176.12 L1571.72 1175.97 L1573.55 1175.82 L1575.37 1175.67 L1577.19 1175.52 L1579.01 1175.37 L1580.84 1175.22 L1582.66 1175.07 L1584.48 1174.92 L1586.31 1174.77 L1588.13 1174.62 L1589.95 1174.47 L1591.78 1174.32 L1593.60 1174.18 L1595.42 1174.03 L1597.25 1173.88 L1599.07 1173.73 L1600.89 1173.59 L1602.72 1173.44 L1604.54 1173.30 L1606.36 1173.15 L1608.19 1173.01 L1610.01 1172.86 L1611.83 1172.72 L1613.66 1172.57 L1615.48 1172.43 L1617.30 1172.28 L1619.12 1172.14 L1620.95 1172.00 L1622.77 1171.85 L1624.59 1171.71 L1626.42 1171.57 L1628.24 1171.43 L1630.06 1171.29 L1631.89 1171.14 L1633.71 1171.00 L1635.53 1170.86 L1637.36 1170.72 L1639.18 1170.58 L1641.00 1170.44 L1642.83 1170.30 L1644.65 1170.16 L1646.47 1170.02 L1648.30 1169.89 L1650.12 1169.75 L1651.94 1169.61 L1653.77 1169.47 L1655.59 1169.33 L1657.41 1169.20 L1659.23 1169.06 L1661.06 1168.92 L1662.88 1168.79 L1664.70 1168.65 L1666.53 1168.51 L1668.35 1168.38 L1670.17 1168.24 L1672.00 1168.11 L1673.82 1167.97 L1675.64 1167.84 L1677.47 1167.71 L1679.29 1167.57 L1681.11 1167.44 L1682.94 1167.30 L1684.76 1167.17 L1686.58 1167.04 L1688.41 1166.91 L1690.23 1166.77 L1692.05 1166.64 L1693.88 1166.51 L1695.70 1166.38 L1697.52 1166.25 L1699.34 1166.12 L1701.17 1165.99 L1702.99 1165.86 L1704.81 1165.73 L1706.64 1165.60 L1708.46 1165.47 L1710.28 1165.34 L1712.11 1165.21 L1713.93 1165.08 L1715.75 1164.95 L1717.58 1164.82 L1719.40 1164.69 L1721.22 1164.57 L1723.05 1164.44 L1724.87 1164.31 L1726.69 1164.18 L1728.52 1164.06 L1730.34 1163.93 L1732.16 1163.80 L1733.99 1163.68 L1735.81 1163.55 L1737.63 1163.43 L1739.45 1163.30 L1741.28 1163.18 L1743.10 1163.05 L1744.92 1162.93 L1746.75 1162.80 L1748.57 1162.68 L1750.39 1162.56 L1752.22 1162.43 L1754.04 1162.31 L1755.86 1162.19 L1757.69 1162.06 L1759.51 1161.94 L1761.33 1161.82 L1763.16 1161.69 L1764.98 1161.57 L1766.80 1161.45 L1768.63 1161.33 L1770.45 1161.21 L1772.27 1161.09 L1774.10 1160.97 L1775.92 1160.85 L1777.74 1160.73 L1779.56 1160.61 L1781.39 1160.49 L1783.21 1160.37 L1785.03 1160.25 L1786.86 1160.13 L1788.68 1160.01 L1790.50 1159.89 L1792.33 1159.77 L1794.15 1159.65 L1795.97 1159.54 L1797.80 1159.42 L1799.62 1159.30 L1801.44 1159.18 L1803.27 1159.07 L1805.09 1158.95 L1806.91 1158.83 L1808.74 1158.72 L1810.56 1158.60 L1812.38 1158.48 L1814.21 1158.37 L1816.03 1158.25 L1817.85 1158.14 L1819.67 1158.02 L1821.50 1157.91 L1823.32 1157.79 L1825.14 1157.68 L1826.97 1157.57 L1828.79 1157.45 L1830.61 1157.34 L1832.44 1157.22 L1834.26 1157.11 L1836.08 1157.00 L1837.91 1156.88 L1839.73 1156.77 L1841.55 1156.66 L1843.38 1156.55 L1845.20 1156.43 L1847.02 1156.32 L1848.85 1156.21 L1850.67 1156.10 L1852.49 1155.99 L1854.32 1155.88 L1856.14 1155.77 L1857.96 1155.66 L1859.78 1155.55 L1861.61 1155.44 L1863.43 1155.33 L1865.25 1155.22 L1867.08 1155.11 L1868.90 1155.00 L1870.72 1154.89 L1872.55 1154.78 L1874.37 1154.67 L1876.19 1154.56 L1878.02 1154.45 L1879.84 1154.34 L1881.66 1154.24 L1883.49 1154.13 L1885.31 1154.02 L1887.13 1153.91 L1888.96 1153.81 L1890.78 1153.70 L1892.60 1153.59 L1894.43 1153.49 L1896.25 1153.38 L1898.07 1153.27 L1899.89 1153.17 L1901.72 1153.06 L1903.54 1152.96 L1905.36 1152.85 L1907.19 1152.74 L1909.01 1152.64 L1910.83 1152.53 L1912.66 1152.43 L1914.48 1152.33 L1916.30 1152.22 L1918.13 1152.12 L1919.95 1152.01 L1921.77 1151.91 L1923.60 1151.81 L1925.42 1151.70 L1927.24 1151.60 L1929.07 1151.50 L1930.89 1151.39 L1932.71 1151.29 L1934.54 1151.19 L1936.36 1151.09 L1938.18 1150.98 L1940.00 1150.88 L1941.83 1150.78 L1943.65 1150.68 L1945.47 1150.58 L1947.30 1150.48 L1949.12 1150.38 L1950.94 1150.27 L1952.77 1150.17 L1954.59 1150.07 L1956.41 1149.97 L1958.24 1149.87 L1960.06 1149.77 L1961.88 1149.67 L1963.71 1149.57 L1965.53 1149.47 L1967.35 1149.37 L1969.18 1149.28 L1971.00 1149.18 L1972.82 1149.08 L1974.65 1148.98 L1976.47 1148.88 L1978.29 1148.78 L1980.11 1148.68 L1981.94 1148.59 L1983.76 1148.49 L1985.58 1148.39 L1987.41 1148.29 L1989.23 1148.20 L1991.05 1148.10 L1992.88 1148.00 L1994.70 1147.91 L1996.52 1147.81 L1998.35 1147.71 L2000.17 1147.62 L2001.99 1147.52 L2003.82 1147.43 L2005.64 1147.33 L2007.46 1147.23 L2009.29 1147.14 L2011.11 1147.04 L2012.93 1146.95 L2014.76 1146.85 L2016.58 1146.76 L2018.40 1146.66 L2020.22 1146.57 L2022.05 1146.48 L2023.87 1146.38 L2025.69 1146.29 L2027.52 1146.19 L2029.34 1146.10 L2031.16 1146.01 L2032.99 1145.91 L2034.81 1145.82 L2036.63 1145.73 L2038.46 1145.64 L2040.28 1145.54 L2042.10 1145.45 L2043.93 1145.36 L2045.75 1145.27 L2047.57 1145.17 L2049.40 1145.08 L2051.22 1144.99 L2053.04 1144.90 L2054.87 1144.81 L2056.69 1144.72 L2058.51 1144.63 L2060.33 1144.53 L2062.16 1144.44 L2063.98 1144.35 L2065.80 1144.26 L2067.63 1144.17 L2069.45 1144.08 L2071.27 1143.99 L2073.10 1143.90 L2074.92 1143.81 L2076.74 1143.72 L2078.57 1143.63 L2080.39 1143.54 L2082.21 1143.46 L2084.04 1143.37 L2085.86 1143.28 L2087.68 1143.19 L2089.51 1143.10 L2091.33 1143.01 L2093.15 1142.92 L2094.98 1142.84 L2096.80 1142.75 L2098.62 1142.66 L2100.44 1142.57 L2102.27 1142.48 L2104.09 1142.40 L2105.91 1142.31 L2107.74 1142.22 L2109.56 1142.14 L2111.38 1142.05 L2113.21 1141.96 L2115.03 1141.88 L2116.85 1141.79 L2118.68 1141.70 L2120.50 1141.62"/>
<path d="M284.50 1635.90 L284.50 1634.39 L284.50 1632.88 L284.50 1631.35 L284.51 1629.80 L284.51 1628.29 L284.52 1626.72 L284.54 1625.21 L284.55 1623.60 L284.57 1622.07 L284.60 1620.53 L284.63 1619.02 L284.67 1617.37 L284.71 1615.78 L284.77 1614.07 L284.83 1612.48 L284.90 1610.77 L284.97 1609.26 L285.05 1607.65 L285.15 1605.95 L285.27 1604.15 L285.38 1602.63 L285.50 1601.03 L285.64 1599.36 L285.80 1597.61 L285.98 1595.77 L286.19 1593.85 L286.37 1592.35 L286.56 1590.79 L286.77 1589.18 L287.01 1587.51 L287.27 1585.78 L287.56 1583.99 L287.87 1582.13 L288.22 1580.21 L288.61 1578.22 L289.03 1576.16 L289.51 1574.03 L289.85 1572.56 L290.21 1571.06 L290.60 1569.52 L291.01 1567.95 L291.45 1566.34 L291.93 1564.69 L292.43 1563.01 L292.97 1561.28 L293.55 1559.51 L294.16 1557.71 L294.82 1555.85 L295.52 1553.96 L296.27 1552.02 L297.07 1550.03 L297.93 1548.00 L298.53 1546.60 L299.75 1543.92 L300.96 1541.38 L302.18 1538.95 L303.39 1536.63 L304.61 1534.40 L305.83 1532.26 L307.04 1530.19 L308.26 1528.20 L309.47 1526.27 L310.69 1524.40 L311.90 1522.59 L313.12 1520.82 L314.33 1519.11 L315.55 1517.43 L316.76 1515.80 L317.98 1514.21 L319.20 1512.66 L320.41 1511.14 L321.63 1509.65 L322.84 1508.20 L324.06 1506.77 L325.27 1505.37 L326.49 1504.00 L327.70 1502.65 L328.92 1501.33 L330.13 1500.03 L331.35 1498.76 L332.57 1497.50 L333.78 1496.26 L335.00 1495.05 L336.21 1493.85 L337.43 1492.67 L338.64 1491.51 L339.86 1490.36 L341.07 1489.24 L342.29 1488.12 L343.50 1487.02 L344.72 1485.94 L345.94 1484.87 L347.15 1483.81 L348.37 1482.77 L349.58 1481.74 L350.80 1480.72 L352.01 1479.71 L353.23 1478.72 L354.44 1477.73 L355.66 1476.76 L356.87 1475.80 L358.09 1474.85 L359.31 1473.91 L360.52 1472.97 L361.74 1472.05 L362.95 1471.14 L364.17 1470.23 L365.38 1469.34 L366.60 1468.45 L368.42 1467.14 L370.24 1465.84 L372.07 1464.57 L373.89 1463.30 L375.71 1462.06 L377.54 1460.83 L379.36 1459.62 L381.18 1458.42 L383.01 1457.24 L384.83 1456.07 L386.65 1454.91 L388.48 1453.77 L390.30 1452.64 L392.12 1451.52 L393.95 1450.41 L395.77 1449.32 L397.59 1448.24 L399.42 1447.17 L401.24 1446.11 L403.06 1445.06 L404.89 1444.02 L406.71 1442.99 L408.53 1441.97 L410.35 1440.96 L412.18 1439.96 L414.00 1438.97 L415.82 1437.98 L417.65 1437.01 L419.47 1436.05 L421.29 1435.09 L423.12 1434.14 L424.94 1433.20 L426.76 1432.27 L428.59 1431.34 L430.41 1430.43 L432.23 1429.52 L434.06 1428.61 L435.88 1427.72 L437.70 1426.83 L439.53 1425.95 L441.35 1425.07 L443.17 1424.20 L445.00 1423.34 L446.82 1422.48 L448.64 1421.63 L450.46 1420.79 L452.29 1419.95 L454.11 1419.12 L455.93 1418.29 L457.76 1417.47 L459.58 1416.66 L461.40 1415.85 L463.23 1415.04 L465.05 1414.24 L466.87 1413.45 L468.70 1412.66 L470.52 1411.88 L472.34 1411.10 L474.17 1410.32 L475.99 1409.55 L477.81 1408.79 L479.64 1408.03 L481.46 1407.27 L483.28 1406.52 L485.11 1405.78 L486.93 1405.03 L488.75 1404.30 L490.57 1403.56 L492.40 1402.83 L494.22 1402.11 L496.04 1401.39 L497.87 1400.67 L499.69 1399.96 L501.51 1399.25 L503.34 1398.54 L505.16 1397.84 L506.98 1397.14 L508.81 1396.45 L510.63 1395.76 L512.45 1395.07 L514.28 1394.38 L516.10 1393.70 L517.92 1393.03 L519.75 1392.35 L521.57 1391.68 L523.39 1391.02 L525.22 1390.35 L527.04 1389.69 L528.86 1389.04 L530.68 1388.38 L532.51 1387.73 L534.33 1387.08 L536.15 1386.44 L537.98 1385.80 L539.80 1385.16 L541.62 1384.52 L543.45 1383.89 L545.27 1383.26 L547.09 1382.63 L548.92 1382.01 L550.74 1381.39 L552.56 1380.77 L554.39 1380.15 L556.21 1379.54 L558.03 1378.93 L559.86 1378.32 L561.68 1377.71 L563.50 1377.11 L565.33 1376.51 L567.15 1375.91 L568.97 1375.32 L570.79 1374.72 L572.62 1374.13 L574.44 1373.54 L576.26 1372.96 L578.09 1372.38 L579.91 1371.79 L581.73 1371.22 L583.56 1370.64 L585.38 1370.06 L587.20 1369.49 L589.03 1368.92 L590.85 1368.35 L592.67 1367.79 L594.50 1367.23 L596.32 1366.66 L598.14 1366.10 L599.97 1365.55 L601.79 1364.99 L603.61 1364.44 L605.44 1363.89 L607.26 1363.34 L609.08 1362.79 L610.90 1362.25 L612.73 1361.70 L614.55 1361.16 L616.37 1360.62 L618.20 1360.09 L620.02 1359.55 L621.84 1359.02 L623.67 1358.49 L625.49 1357.96 L627.31 1357.43 L629.14 1356.90 L630.96 1356.38 L632.78 1355.86 L634.61 1355.34 L636.43 1354.82 L638.25 1354.30 L640.08 1353.78 L641.90 1353.27 L643.72 1352.76 L645.55 1352.25 L647.37 1351.74 L649.19 1351.23 L651.01 1350.72 L652.84 1350.22 L654.66 1349.72 L656.48 1349.22 L658.31 1348.72 L660.13 1348.22 L661.95 1347.72 L663.78 1347.23 L665.60 1346.74 L667.42 1346.25 L669.25 1345.76 L671.07 1345.27 L672.89 1344.78 L674.72 1344.29 L676.54 1343.81 L678.36 1343.33 L680.19 1342.85 L682.01 1342.37 L683.83 1341.89 L685.66 1341.41 L687.48 1340.93 L689.30 1340.46 L691.12 1339.99 L692.95 1339.52 L694.77 1339.05 L696.59 1338.58 L698.42 1338.11 L700.24 1337.64 L702.06 1337.18 L703.89 1336.72 L705.71 1336.25 L707.53 1335.79 L709.36 1335.33 L711.18 1334.87 L713.00 1334.42 L714.83 1333.96 L716.65 1333.51 L718.47 1333.05 L720.30 1332.60 L722.12 1332.15 L723.94 1331.70 L725.77 1331.25 L727.59 1330.80 L729.41 1330.36 L731.23 1329.91 L733.06 1329.47 L734.88 1329.03 L736.70 1328.59 L738.53 1328.14 L740.35 1327.71 L742.17 1327.27 L744.00 1326.83 L745.82 1326.39 L747.64 1325.96 L749.47 1325.53 L751.29 1325.09 L753.11 1324.66 L754.94 1324.23 L756.76 1323.80 L758.58 1323.37 L760.41 1322.95 L762.23 1322.52 L764.05 1322.10 L765.88 1321.67 L767.70 1321.25 L769.52 1320.83 L771.34 1320.41 L773.17 1319.99 L774.99 1319.57 L776.81 1319.15 L778.64 1318.73 L780.46 1318.32 L782.28 1317.90 L784.11 1317.49 L785.93 1317.07 L787.75 1316.66 L789.58 1316.25 L791.40 1315.84 L793.22 1315.43 L795.05 1315.02 L796.87 1314.62 L798.69 1314.21 L800.52 1313.80 L802.34 1313.40 L804.16 1313.00 L805.99 1312.59 L807.81 1312.19 L809.63 1311.79 L811.45 1311.39 L813.28 1310.99 L815.10 1310.59 L816.92 1310.20 L818.75 1309.80 L820.57 1309.40 L822.39 1309.01 L824.22 1308.62 L826.04 1308.22 L827.86 1307.83 L829.69 1307.44 L831.51 1307.05 L833.33 1306.66 L835.16 1306.27 L836.98 1305.88 L838.80 1305.49 L840.63 1305.11 L842.45 1304.72 L844.27 1304.34 L846.10 1303.95 L847.92 1303.57 L849.74 1303.19 L851.56 1302.81 L853.39 1302.43 L855.21 1302.05 L857.03 1301.67 L858.86 1301.29 L860.68 1300.91 L862.50 1300.53 L864.33 1300.16 L866.15 1299.78 L867.97 1299.41 L869.80 1299.03 L871.62 1298.66 L873.44 1298.29 L875.27 1297.92 L877.09 1297.55 L878.91 1297.18 L880.74 1296.81 L882.56 1296.44 L884.38 1296.07 L886.21 1295.70 L888.03 1295.34 L889.85 1294.97 L891.67 1294.61 L893.50 1294.24 L895.32 1293.88 L897.14 1293.52 L898.97 1293.15 L900.79 1292.79 L902.61 1292.43 L904.44 1292.07 L906.26 1291.71 L908.08 1291.35 L909.91 1290.99 L911.73 1290.64 L913.55 1290.28 L915.38 1289.92 L917.20 1289.57 L919.02 1289.21 L920.85 1288.86 L922.67 1288.51 L924.49 1288.15 L926.32 1287.80 L928.14 1287.45 L929.96 1287.10 L931.78 1286.75 L933.61 1286.40 L935.43 1286.05 L937.25 1285.70 L939.08 1285.35 L940.90 1285.01 L942.72 1284.66 L944.55 1284.31 L946.37 1283.97 L948.19 1283.62 L950.02 1283.28 L951.84 1282.94 L953.66 1282.59 L955.49 1282.25 L957.31 1281.91 L959.13 1281.57 L960.96 1281.23 L962.78 1280.89 L964.60 1280.55 L966.43 1280.21 L968.25 1279.87 L970.07 1279.53 L971.89 1279.20 L973.72 1278.86 L975.54 1278.52 L977.36 1278.19 L979.19 1277.85 L981.01 1277.52 L982.83 1277.19 L984.66 1276.85 L986.48 1276.52 L988.30 1276.19 L990.13 1275.86 L991.95 1275.53 L993.77 1275.20 L995.60 1274.87 L997.42 1274.54 L999.24 1274.21 L1001.07 1273.88 L1002.89 1273.55 L1004.71 1273.23 L1006.54 1272.90 L1008.36 1272.57 L1010.18 1272.25 L1012.00 1271.92 L1013.83 1271.60 L1015.65 1271.28 L1017.47 1270.95 L1019.30 1270.63 L1021.12 1270.31 L1022.94 1269.99 L1024.77 1269.66 L1026.59 1269.34 L1028.41 1269.02 L1030.24 1268.70 L1032.06 1268.38 L1033.88 1268.07 L1035.71 1267.75 L1037.53 1267.43 L1039.35 1267.11 L1041.18 1266.80 L1043.00 1266.48 L1044.82 1266.16 L1046.65 1265.85 L1048.47 1265.53 L1050.29 1265.22 L1052.11 1264.91 L1053.94 1264.59 L1055.76 1264.28 L1057.58 1263.97 L1059.41 1263.66 L1061.23 1263.34 L1063.05 1263.03 L1064.88 1262.72 L1066.70 1262.41 L1068.52 1262.10 L1070.35 1261.79 L1072.17 1261.48 L1073.99 1261.18 L1075.82 1260.87 L1077.64 1260.56 L1079.46 1260.25 L1081.29 1259.95 L1083.11 1259.64 L1084.93 1259.34 L1086.76 1259.03 L1088.58 1258.73 L1090.40 1258.42 L1092.22 1258.12 L1094.05 1257.82 L1095.87 1257.51 L1097.69 1257.21 L1099.52 1256.91 L1101.34 1256.61 L1103.16 1256.31 L1104.99 1256.01 L1106.81 1255.71 L1108.63 1255.41 L1110.46 1255.11 L1112.28 1254.81 L1114.10 1254.51 L1115.93 1254.21 L1117.75 1253.91 L1119.57 1253.62 L1121.40 1253.32 L1123.22 1253.02 L1125.04 1252.73 L1126.87 1252.43 L1128.69 1252.14 L1130.51 1251.84 L1132.33 1251.55 L1134.16 1251.25 L1135.98 1250.96 L1137.80 1250.67 L1139.63 1250.37 L1141.45 1250.08 L1143.27 1249.79 L1145.10 1249.50 L1146.92 1249.21 L1148.74 1248.92 L1150.57 1248.63 L1152.39 1248.34 L1154.21 1248.05 L1156.04 1247.76 L1157.86 1247.47 L1159.68 1247.18 L1161.51 1246.89 L1163.33 1246.60 L1165.15 1246.32 L1166.98 1246.03 L1168.80 1245.74 L1170.62 1245.46 L1172.44 1245.17 L1174.27 1244.89 L1176.09 1244.60 L1177.91 1244.32 L1179.74 1244.03 L1181.56 1243.75 L1183.38 1243.47 L1185.21 1243.18 L1187.03 1242.90 L1188.85 1242.62 L1190.68 1242.34 L1192.50 1242.05 L1194.32 1241.77 L1196.15 1241.49 L1197.97 1241.21 L1199.79 1240.93 L1201.62 1240.65 L1203.44 1240.37 L1205.26 1240.09 L1207.09 1239.81 L1208.91 1239.54 L1210.73 1239.26 L1212.56 1238.98 L1214.38 1238.70 L1216.20 1238.43 L1218.02 1238.15 L1219.85 1237.87 L1221.67 1237.60 L1223.49 1237.32 L1225.32 1237.05 L1227.14 1236.77 L1228.96 1236.50 L1230.79 1236.22 L1232.61 1235.95 L1234.43 1235.68 L1236.26 1235.40 L1238.08 1235.13 L1239.90 1234.86 L1241.73 1234.58 L1243.55 1234.31 L1245.37 1234.04 L1247.20 1233.77 L1249.02 1233.50 L1250.84 1233.23 L1252.67 1232.96 L1254.49 1232.69 L1256.31 1232.42 L1258.13 1232.15 L1259.96 1231.88 L1261.78 1231.61 L1263.60 1231.34 L1265.43 1231.08 L1267.25 1230.81 L1269.07 1230.54 L1270.90 1230.27 L1272.72 1230.01 L1274.54 1229.74 L1276.37 1229.48 L1278.19 1229.21 L1280.01 1228.94 L1281.84 1228.68 L1283.66 1228.41 L1285.48 1228.15 L1287.31 1227.89 L1289.13 1227.62 L1290.95 1227.36 L1292.78 1227.10 L1294.60 1226.83 L1296.42 1226.57 L1298.24 1226.31 L1300.07 1226.05 L1301.89 1225.78 L1303.71 1225.52 L1305.54 1225.26 L1307.36 1225.00 L1309.18 1224.74 L1311.01 1224.48 L1312.83 1224.22 L1314.65 1223.96 L1316.48 1223.70 L1318.30 1223.44 L1320.12 1223.18 L1321.95 1222.92 L1323.77 1222.67 L1325.59 1222.41 L1327.42 1222.15 L1329.24 1221.89 L1331.06 1221.64 L1332.89 1221.38 L1334.71 1221.12 L1336.53 1220.87 L1338.35 1220.61 L1340.18 1220.36 L1342.00 1220.10 L1343.82 1219.85 L1345.65 1219.59 L1347.47 1219.34 L1349.29 1219.08 L1351.12 1218.83 L1352.94 1218.58 L1354.76 1218.32 L1356.59 1218.07 L1358.41 1217.82 L1360.23 1217.56 L1362.06 1217.31 L1363.88 1217.06 L1365.70 1216.81 L1367.53 1216.56 L1369.35 1216.31 L1371.17 1216.05 L1373.00 1215.80 L1374.82 1215.55 L1376.64 1215.30 L1378.46 1215.05 L1380.29 1214.80 L1382.11 1214.56 L1383.93 1214.31 L1385.76 1214.06 L1387.58 1213.81 L1389.40 1213.56 L1391.23 1213.31 L1393.05 1213.07 L1394.87 1212.82 L1396.70 1212.57 L1398.52 1212.32 L1400.34 1212.08 L1402.17 1211.83 L1403.99 1211.59 L1405.81 1211.34 L1407.64 1211.09 L1409.46 1210.85 L1411.28 1210.60 L1413.11 1210.36 L1414.93 1210.11 L1416.75 1209.87 L1418.57 1209.63 L1420.40 1209.38 L1422.22 1209.14 L1424.04 1208.90 L1425.87 1208.65 L1427.69 1208.41 L1429.51 1208.17 L1431.34 1207.93 L1433.16 1207.68 L1434.98 1207.44 L1436.81 1207.20 L1438.63 1206.96 L1440.45 1206.72 L1442.28 1206.48 L1444.10 1206.24 L1445.92 1206.00 L1447.75 1205.76 L1449.57 1205.52 L1451.39 1205.28 L1453.22 1205.04 L1455.04 1204.80 L1456.86 1204.56 L1458.68 1204.32 L1460.51 1204.08 L1462.33 1203.84 L1464.15 1203.61 L1465.98 1203.37 L1467.80 1203.13 L1469.62 1202.89 L1471.45 1202.66 L1473.27 1202.42 L1475.09 1202.18 L1476.92 1201.95 L1478.74 1201.71 L1480.56 1201.48 L1482.39 1201.24 L1484.21 1201.01 L1486.03 1200.77 L1487.86 1200.54 L1489.68 1200.30 L1491.50 1200.07 L1493.33 1199.83 L1495.15 1199.60 L1496.97 1199.36 L1498.79 1199.13 L1500.62 1198.90 L1502.44 1198.66 L1504.26 1198.43 L1506.09 1198.20 L1507.91 1197.97 L1509.73 1197.74 L1511.56 1197.50 L1513.38 1197.27 L1515.20 1197.04 L1517.03 1196.81 L1518.85 1196.58 L1520.67 1196.35 L1522.50 1196.12 L1524.32 1195.89 L1526.14 1195.66 L1527.97 1195.43 L1529.79 1195.20 L1531.61 1194.97 L1533.44 1194.74 L1535.26 1194.51 L1537.08 1194.28 L1538.90 1194.05 L1540.73 1193.82 L1542.55 1193.59 L1544.37 1193.37 L1546.20 1193.14 L1548.02 1192.91 L1549.84 1192.68 L1551.67 1192.46 L1553.49 1192.23 L1555.31 1192.00 L1557.14 1191.78 L1558.96 1191.55 L1560.78 1191.32 L1562.25 1191.14" stroke-dasharray="42.5 27.25 6 27.25"/>
<path d="M1562.25 1191.14 L1563.82 1190.95 L1565.64 1190.72 L1567.47 1190.50 L1569.29 1190.27 L1571.11 1190.05 L1572.94 1189.82 L1574.76 1189.60 L1576.58 1189.37 L1578.41 1189.15 L1580.23 1188.92 L1582.05 1188.70 L1583.88 1188.48 L1585.70 1188.25 L1587.52 1188.03 L1589.35 1187.81 L1591.17 1187.59 L1592.99 1187.36 L1594.82 1187.14 L1596.64 1186.92 L1598.46 1186.70 L1600.29 1186.47 L1602.11 1186.25 L1603.93 1186.03 L1605.75 1185.81 L1607.58 1185.59 L1609.40 1185.37 L1611.22 1185.15 L1613.05 1184.93 L1614.87 1184.71 L1616.69 1184.49 L1618.52 1184.27 L1620.34 1184.05 L1622.16 1183.83 L1623.99 1183.61 L1625.81 1183.39 L1627.63 1183.17 L1629.46 1182.95 L1631.28 1182.74 L1633.10 1182.52 L1634.93 1182.30 L1636.75 1182.08 L1638.57 1181.86 L1640.40 1181.65 L1642.22 1181.43 L1644.04 1181.21 L1645.86 1180.99 L1647.69 1180.78 L1649.51 1180.56 L1651.33 1180.35 L1653.16 1180.13 L1654.98 1179.91 L1656.80 1179.70 L1658.63 1179.48 L1660.45 1179.27 L1662.27 1179.05 L1664.10 1178.84 L1665.92 1178.62 L1667.74 1178.41 L1669.57 1178.19 L1671.39 1177.98 L1673.21 1177.76 L1675.04 1177.55 L1676.86 1177.34 L1678.68 1177.12 L1680.51 1176.91 L1682.33 1176.70 L1684.15 1176.48 L1685.97 1176.27 L1687.80 1176.06 L1689.62 1175.84 L1691.44 1175.63 L1693.27 1175.42 L1695.09 1175.21 L1696.91 1175.00 L1698.74 1174.78 L1700.56 1174.57 L1702.38 1174.36 L1704.21 1174.15 L1706.03 1173.94 L1707.85 1173.73 L1709.68 1173.52 L1711.50 1173.31 L1713.32 1173.10 L1715.15 1172.89 L1716.97 1172.68 L1718.79 1172.47 L1720.62 1172.26 L1722.44 1172.05 L1724.26 1171.84 L1726.08 1171.63 L1727.91 1171.42 L1729.73 1171.21 L1731.55 1171.00 L1733.38 1170.80 L1735.20 1170.59 L1737.02 1170.38 L1738.85 1170.17 L1740.67 1169.96 L1742.49 1169.76 L1744.32 1169.55 L1746.14 1169.34 L1747.96 1169.14 L1749.79 1168.93 L1751.61 1168.72 L1753.43 1168.52 L1755.26 1168.31 L1757.08 1168.10 L1758.90 1167.90 L1760.73 1167.69 L1762.55 1167.48 L1764.37 1167.28 L1766.19 1167.07 L1768.02 1166.87 L1769.84 1166.66 L1771.66 1166.46 L1773.49 1166.25 L1775.31 1166.05 L1777.13 1165.85 L1778.96 1165.64 L1780.78 1165.44 L1782.60 1165.23 L1784.43 1165.03 L1786.25 1164.83 L1788.07 1164.62 L1789.90 1164.42 L1791.72 1164.22 L1793.54 1164.01 L1795.37 1163.81 L1797.19 1163.61 L1799.01 1163.40 L1800.84 1163.20 L1802.66 1163.00 L1804.48 1162.80 L1806.30 1162.60 L1808.13 1162.39 L1809.95 1162.19 L1811.77 1161.99 L1813.60 1161.79 L1815.42 1161.59 L1817.24 1161.39 L1819.07 1161.19 L1820.89 1160.99 L1822.71 1160.79 L1824.54 1160.59 L1826.36 1160.39 L1828.18 1160.19 L1830.01 1159.99 L1831.83 1159.79 L1833.65 1159.59 L1835.48 1159.39 L1837.30 1159.19 L1839.12 1158.99 L1840.95 1158.79 L1842.77 1158.59 L1844.59 1158.39 L1846.41 1158.19 L1848.24 1158.00 L1850.06 1157.80 L1851.88 1157.60 L1853.71 1157.40 L1855.53 1157.20 L1857.35 1157.01 L1859.18 1156.81 L1861.00 1156.61 L1862.82 1156.41 L1864.65 1156.22 L1866.47 1156.02 L1868.29 1155.82 L1870.12 1155.63 L1871.94 1155.43 L1873.76 1155.23 L1875.59 1155.04 L1877.41 1154.84 L1879.23 1154.65 L1881.06 1154.45 L1882.88 1154.25 L1884.70 1154.06 L1886.52 1153.86 L1888.35 1153.67 L1890.17 1153.47 L1891.99 1153.28 L1893.82 1153.08 L1895.64 1152.89 L1897.46 1152.69 L1899.29 1152.50 L1901.11 1152.31 L1902.93 1152.11 L1904.76 1151.92 L1906.58 1151.72 L1908.40 1151.53 L1910.23 1151.34 L1912.05 1151.14 L1913.87 1150.95 L1915.70 1150.76 L1917.52 1150.57 L1919.34 1150.37 L1921.17 1150.18 L1922.99 1149.99 L1924.81 1149.80 L1926.63 1149.60 L1928.46 1149.41 L1930.28 1149.22 L1932.10 1149.03 L1933.93 1148.84 L1935.75 1148.64 L1937.57 1148.45 L1939.40 1148.26 L1941.22 1148.07 L1943.04 1147.88 L1944.87 1147.69 L1946.69 1147.50 L1948.51 1147.31 L1950.34 1147.12 L1952.16 1146.93 L1953.98 1146.74 L1955.81 1146.55 L1957.63 1146.36 L1959.45 1146.17 L1961.28 1145.98 L1963.10 1145.79 L1964.92 1145.60 L1966.74 1145.41 L1968.57 1145.22 L1970.39 1145.03 L1972.21 1144.84 L1974.04 1144.65 L1975.86 1144.46 L1977.68 1144.28 L1979.51 1144.09 L1981.33 1143.90 L1983.15 1143.71 L1984.98 1143.52 L1986.80 1143.34 L1988.62 1143.15 L1990.45 1142.96 L1992.27 1142.77 L1994.09 1142.59 L1995.92 1142.40 L1997.74 1142.21 L1999.56 1142.02 L2001.39 1141.84 L2003.21 1141.65 L2005.03 1141.46 L2006.85 1141.28 L2008.68 1141.09 L2010.50 1140.91 L2012.32 1140.72 L2014.15 1140.53 L2015.97 1140.35 L2017.79 1140.16 L2019.62 1139.98 L2021.44 1139.79 L2023.26 1139.61 L2025.09 1139.42 L2026.91 1139.24 L2028.73 1139.05 L2030.56 1138.87 L2032.38 1138.68 L2034.20 1138.50 L2036.03 1138.31 L2037.85 1138.13 L2039.67 1137.94 L2041.50 1137.76 L2043.32 1137.58 L2045.14 1137.39 L2046.96 1137.21 L2048.79 1137.03 L2050.61 1136.84 L2052.43 1136.66 L2054.26 1136.48 L2056.08 1136.29 L2057.90 1136.11 L2059.73 1135.93 L2061.55 1135.74 L2063.37 1135.56 L2065.20 1135.38 L2067.02 1135.20 L2068.84 1135.01 L2070.67 1134.83 L2072.49 1134.65 L2074.31 1134.47 L2076.14 1134.29 L2077.96 1134.11 L2079.78 1133.92 L2081.61 1133.74 L2083.43 1133.56 L2085.25 1133.38 L2087.07 1133.20 L2088.90 1133.02 L2090.72 1132.84 L2092.54 1132.66 L2094.37 1132.48 L2096.19 1132.30 L2098.01 1132.12 L2099.84 1131.94 L2101.66 1131.76 L2103.48 1131.58 L2105.31 1131.40 L2107.13 1131.22 L2108.95 1131.04 L2110.78 1130.86 L2112.60 1130.68 L2114.42 1130.50 L2116.25 1130.32 L2118.07 1130.14 L2119.89 1129.96 L2120.50 1129.90" stroke-dasharray="42.5 27.25 6 27.25"/>
</g>
<g stroke="#000" stroke-width="7" stroke-miterlimit="10">
<path d="M496.0 1159.0L526.0 1189.0L496.0 1219.0L466.0 1189.0Z" fill="#646464"/>
<path d="M751.7 759.0L781.7 789.0L751.7 819.0L721.7 789.0Z" fill="#646464"/>
<path d="M895.4 621.8L925.4 651.8L895.4 681.8L865.4 651.8Z" fill="#646464"/>
<path d="M1065.2 495.1L1095.2 525.1L1065.2 555.1L1035.2 525.1Z" fill="#646464"/>
<path d="M1519.0 405.5L1549.0 435.5L1519.0 465.5L1489.0 435.5Z" fill="#646464"/>
<path d="M1668.9 350.6L1698.9 380.6L1668.9 410.6L1638.9 380.6Z" fill="#646464"/>
<path d="M493.5 1253.0L523.5 1283.0L493.5 1313.0L463.5 1283.0Z" fill="#c0c0c0"/>
<path d="M741.8 999.8L771.8 1029.8L741.8 1059.8L711.8 1029.8Z" fill="#c0c0c0"/>
<path d="M1239.5 813.0L1269.5 843.0L1239.5 873.0L1209.5 843.0Z" fill="#c0c0c0"/>
<path d="M1418.9 556.9L1448.9 586.9L1418.9 616.9L1388.9 586.9Z" fill="#c0c0c0"/>
<path d="M2126.7 355.4L2156.7 385.4L2126.7 415.4L2096.7 385.4Z" fill="#c0c0c0"/>
<path d="M492.3 1432.5L522.3 1462.5L492.3 1492.5L462.3 1462.5Z" fill="#ffffff"/>
<path d="M798.5 1200.5L828.5 1230.5L798.5 1260.5L768.5 1230.5Z" fill="#ffffff"/>
<path d="M1134.0 1229.8L1164.0 1259.8L1134.0 1289.8L1104.0 1259.8Z" fill="#ffffff"/>
<path d="M2028.9 1167.9L2058.9 1197.9L2028.9 1227.9L1998.9 1197.9Z" fill="#ffffff"/>
<path d="M2120.5 1061.4L2150.5 1091.4L2120.5 1121.4L2090.5 1091.4Z" fill="#ffffff"/>
</g>
<path d="M284.4 1612.9 L309.5 1637.8 L309.5 1646 L284.4 1646 Z" fill="#fff"/>
<path d="M284.4 1612.9 L309.5 1638.1 L316 1638.1 L316 1633.2 L313.7 1633.2 L291.6 1609 L284.4 1609 Z" fill="#000"/>
<g fill="#000">
<rect x="282" y="50.3" width="2157.6" height="4.8"/>
<rect x="2432.3" y="50.3" width="4.8" height="1590.4"/>
<rect x="309.5" y="1633.2" width="2130.2" height="4.9"/>
<rect x="282" y="50.3" width="5" height="1562.6"/>
<rect x="282" y="1612.9" width="2.4" height="27.9"/>
<rect x="282" y="1638" width="4.9" height="2.8"/>
</g>
<path d="M284.5 1504.0H299.3M2434.7 1504.0H2417.5M284.5 1372.0H299.3M2434.7 1372.0H2417.5M284.5 1240.1H314M2434.7 1240.1H2402.6M284.5 1108.2H299.3M2434.7 1108.2H2417.5M284.5 976.3H299.3M2434.7 976.3H2417.5M284.5 844.3H314M2434.7 844.3H2402.6M284.5 712.4H299.3M2434.7 712.4H2417.5M284.5 580.5H299.3M2434.7 580.5H2417.5M284.5 448.5H314M2434.7 448.5H2402.6M284.5 316.6H299.3M2434.7 316.6H2417.5M284.5 184.7H299.3M2434.7 184.7H2417.5M553.0 52.7V70M553.0 1635.6V1621.1M821.5 52.7V84.8M821.5 1635.6V1603.6M1090.0 52.7V70M1090.0 1635.6V1621.1M1358.5 52.7V84.8M1358.5 1635.6V1603.6M1627.0 52.7V70M1627.0 1635.6V1621.1M1895.5 52.7V84.8M1895.5 1635.6V1603.6M2164.0 52.7V70M2164.0 1635.6V1621.1" stroke="#000" stroke-width="5" fill="none"/>
<text transform="translate(154.09,1657.50) scale(0.9696,1)" font-size="70.5">0.0</text>
<text transform="translate(154.09,1261.71) scale(0.9696,1)" font-size="70.5">0.3</text>
<text transform="translate(154.09,865.92) scale(0.9696,1)" font-size="70.5">0.6</text>
<text transform="translate(154.09,470.13) scale(0.9696,1)" font-size="70.5">0.9</text>
<text transform="translate(154.63,74.34) scale(0.9742,1)" font-size="70.5">1.2</text>
<text transform="translate(265.20,1724.50) scale(0.9900,1)" font-size="70.5">0</text>
<text transform="translate(799.20,1724.50) scale(1.0500,1)" font-size="70.5">2</text>
<text transform="translate(1340.19,1724.50) scale(0.9900,1)" font-size="70.5">4</text>
<text transform="translate(1875.40,1724.50) scale(1.0500,1)" font-size="70.5">6</text>
<text transform="translate(2415.30,1724.50) scale(1.0000,1)" font-size="70.5">8</text>
<text transform="translate(373.38,146.60) scale(0.9803,1)" font-size="70.5">CuDI6 at 10.6 MPa and 308 K</text>
<text transform="translate(489.39,232.50) scale(0.9766,1)" font-size="70.5">CA</text>
<text transform="translate(488.72,317.30) scale(1.0130,1)" font-size="70.5">RFA</text>
<text transform="translate(490.35,402.90) scale(0.9835,1)" font-size="70.5">SA</text>
<text transform="translate(545.89,487.50) scale(0.9850,1)" font-size="70.5">Freundlich</text>
<text transform="translate(546.74,574.60) scale(0.9760,1)" font-size="70.5">Langmuir</text>
<g stroke="#000" stroke-width="7">
<path d="M394.5 181.1L423.0 209.6L394.5 238.1L366.0 209.6Z" fill="#646464"/>
<path d="M394.5 267.3L423.0 295.8L394.5 324.3L366.0 295.8Z" fill="#c0c0c0"/>
<path d="M394.5 352.3L423.0 380.8L394.5 409.3L366.0 380.8Z" fill="#ffffff"/>
</g>
<path d="M374.7 467.1H521" stroke="#000" stroke-width="7" stroke-linecap="round" stroke-dasharray="42.5 27.5 6 27.5" fill="none"/>
<path d="M374.8 551.2H530.8" stroke="#000" stroke-width="7" stroke-linecap="round" fill="none"/>
<text y="1870.5" font-size="85"><tspan x="1137.3" font-style="italic">c</tspan><tspan x="1203">/</tspan><tspan x="1248.2 1318.9 1365.3">mol</tspan><tspan x="1405.9">·</tspan><tspan x="1458.6">m</tspan><tspan x="1529.7 1549.9" y="1835" font-size="58.5">-3</tspan></text>
<text transform="translate(101.4,0) rotate(-90)" y="0" font-size="85"><tspan x="-1075.6" font-style="italic">q</tspan><tspan x="-1003.5">/</tspan><tspan x="-957.0 -887.3 -841.8">mol</tspan><tspan x="-803.4">·</tspan><tspan x="-752.6 -711.2">kg</tspan><tspan x="-663.0 -644.2" y="-34.3" font-size="58.5">-1</tspan></text>
</svg></body></html>
